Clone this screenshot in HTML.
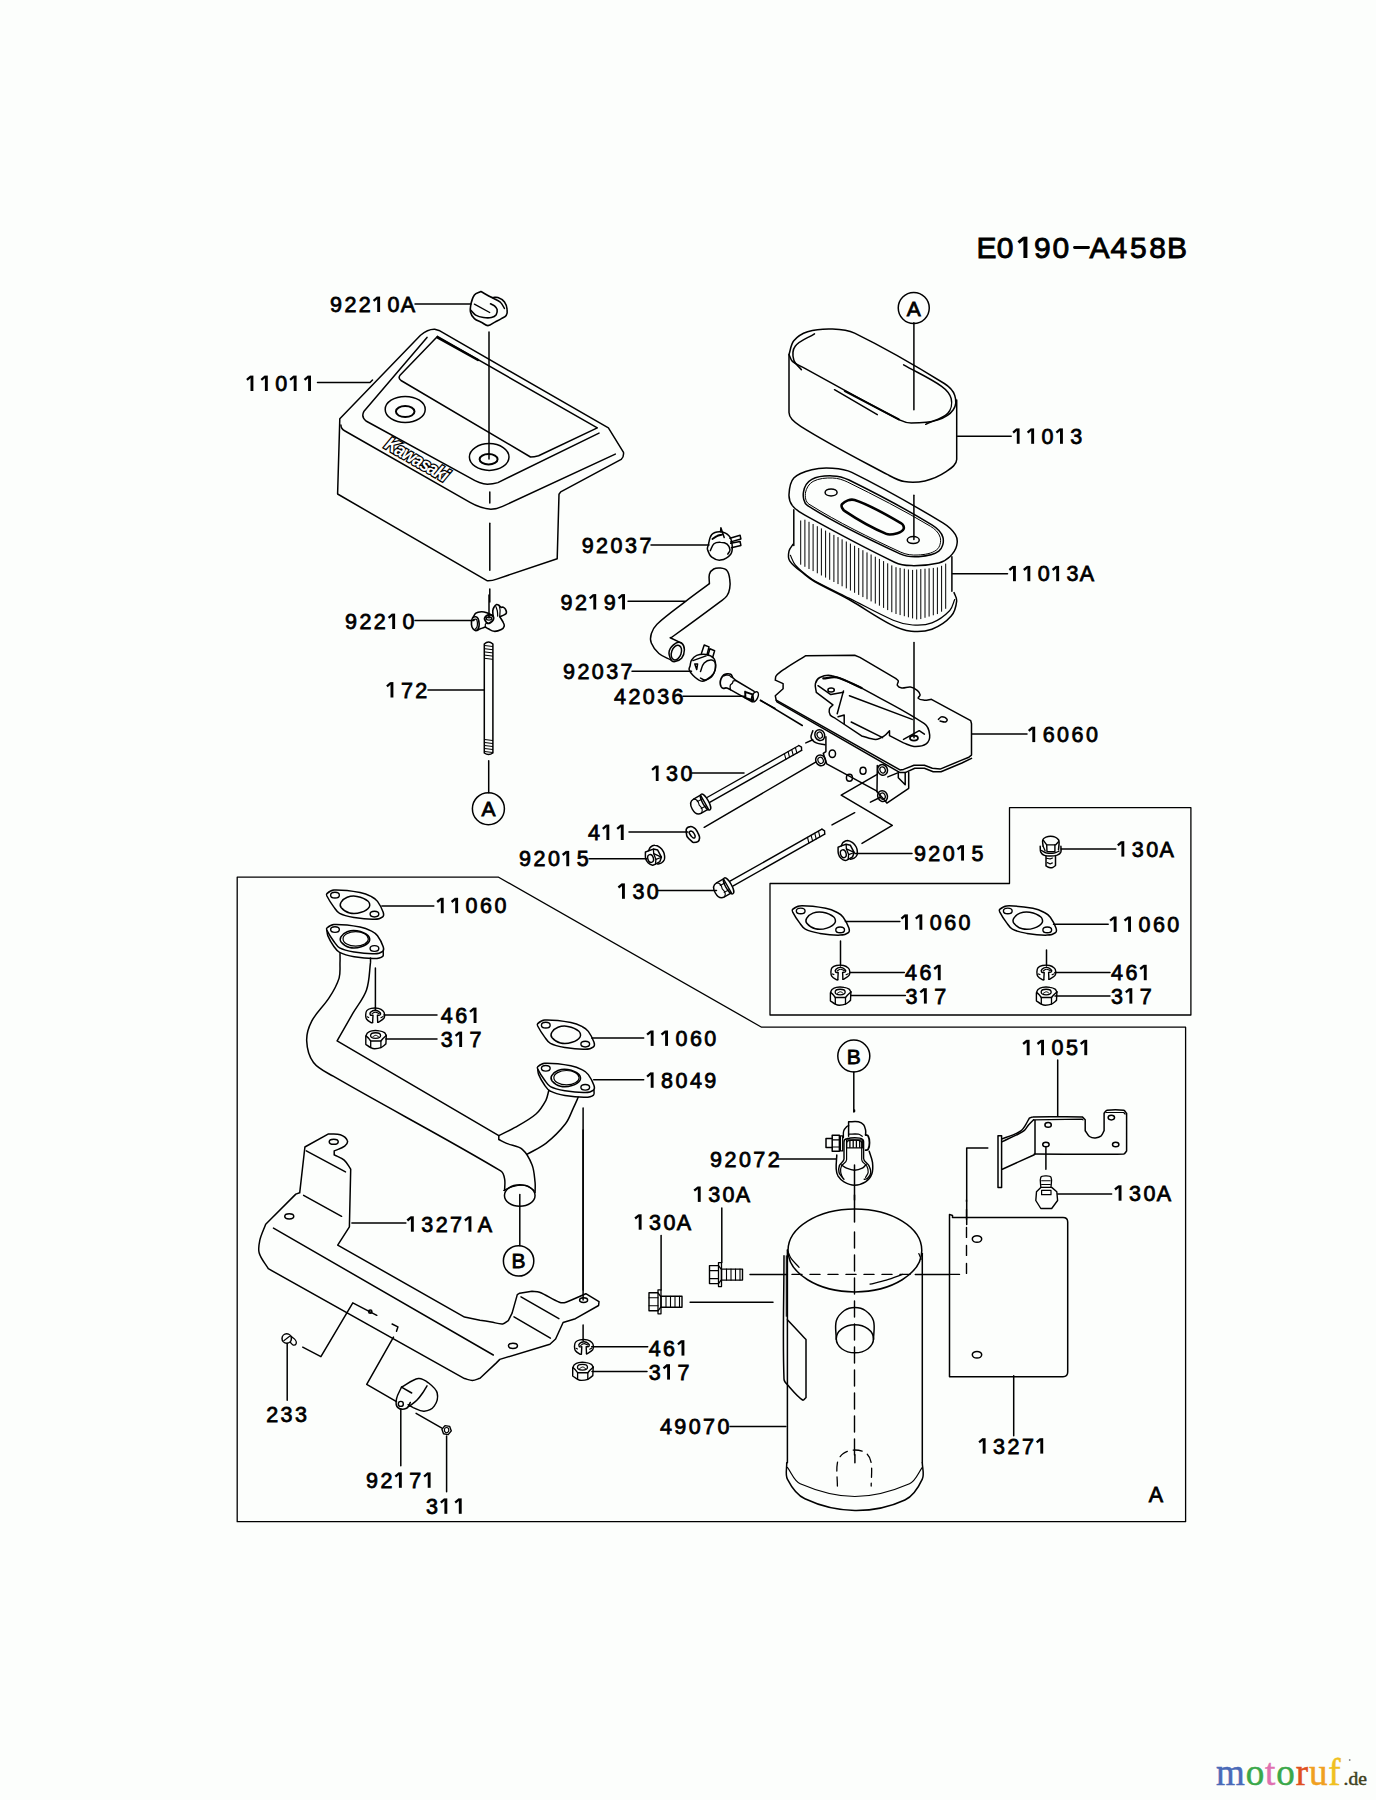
<!DOCTYPE html>
<html><head><meta charset="utf-8"><style>
html,body{margin:0;padding:0;background:#fcfefc;width:1376px;height:1800px;overflow:hidden}
svg{position:absolute;left:0;top:0}
.d polyline,.d path,.d ellipse,.d circle,.d rect,.d line{fill:none;stroke:#000;stroke-linejoin:round;stroke-linecap:round}
.hd{font-family:"Liberation Sans",sans-serif;font-weight:normal;font-size:30px;text-anchor:middle;fill:#000;stroke:#000;stroke-width:0.9}
.lb{font-family:"Liberation Sans",sans-serif;font-weight:normal;font-size:21.5px;text-anchor:middle;fill:#000;stroke:#000;stroke-width:0.8}
.logo{font-family:"Liberation Serif",serif;font-size:37px}
</style></head><body>
<svg class="d" width="1376" height="1800" viewBox="0 0 1376 1800">
<text x="986.5" y="258.0" class="hd">E</text>
<text x="1005.1" y="258.0" class="hd">0</text>
<path d="M1023.4,258.0 L1023.4,236.7 L1027.4,236.7 L1027.4,258.0 Z" style="fill:#000;stroke:none"/><path d="M1024.1,237.9 L1018.5,242.5" style="fill:none;stroke:#000;stroke-width:3.17;stroke-linecap:butt"/>
<text x="1042.3" y="258.0" class="hd">9</text>
<text x="1060.9" y="258.0" class="hd">0</text>
<text x="1099.6" y="258.0" class="hd">A</text>
<text x="1118.9" y="258.0" class="hd">4</text>
<text x="1138.3" y="258.0" class="hd">5</text>
<text x="1157.6" y="258.0" class="hd">8</text>
<text x="1177.0" y="258.0" class="hd">B</text>
<polyline points="1074.5,247.5 1088.5,247.5" stroke-width="2.8" />
<text x="336.0" y="312.0" class="lb">9</text>
<text x="350.4" y="312.0" class="lb">2</text>
<text x="364.8" y="312.0" class="lb">2</text>
<path d="M377.2,312.0 L377.2,296.6 L380.1,296.6 L380.1,312.0 Z" style="fill:#000;stroke:none"/><path d="M377.7,297.4 L373.6,300.8" style="fill:none;stroke:#000;stroke-width:2.30;stroke-linecap:butt"/>
<text x="393.6" y="312.0" class="lb">0</text>
<text x="408.0" y="312.0" class="lb">A</text>
<path d="M250.5,391.0 L250.5,375.6 L253.4,375.6 L253.4,391.0 Z" style="fill:#000;stroke:none"/><path d="M251.0,376.4 L246.9,379.8" style="fill:none;stroke:#000;stroke-width:2.30;stroke-linecap:butt"/>
<path d="M264.9,391.0 L264.9,375.6 L267.8,375.6 L267.8,391.0 Z" style="fill:#000;stroke:none"/><path d="M265.4,376.4 L261.3,379.8" style="fill:none;stroke:#000;stroke-width:2.30;stroke-linecap:butt"/>
<text x="281.3" y="391.0" class="lb">0</text>
<path d="M293.7,391.0 L293.7,375.6 L296.6,375.6 L296.6,391.0 Z" style="fill:#000;stroke:none"/><path d="M294.2,376.4 L290.1,379.8" style="fill:none;stroke:#000;stroke-width:2.30;stroke-linecap:butt"/>
<path d="M308.1,391.0 L308.1,375.6 L311.0,375.6 L311.0,391.0 Z" style="fill:#000;stroke:none"/><path d="M308.6,376.4 L304.5,379.8" style="fill:none;stroke:#000;stroke-width:2.30;stroke-linecap:butt"/>
<text x="351.0" y="629.0" class="lb">9</text>
<text x="365.4" y="629.0" class="lb">2</text>
<text x="379.8" y="629.0" class="lb">2</text>
<path d="M392.2,629.0 L392.2,613.6 L395.1,613.6 L395.1,629.0 Z" style="fill:#000;stroke:none"/><path d="M392.7,614.4 L388.6,617.8" style="fill:none;stroke:#000;stroke-width:2.30;stroke-linecap:butt"/>
<text x="408.6" y="629.0" class="lb">0</text>
<path d="M390.5,697.5 L390.5,682.1 L393.4,682.1 L393.4,697.5 Z" style="fill:#000;stroke:none"/><path d="M391.0,682.9 L386.9,686.3" style="fill:none;stroke:#000;stroke-width:2.30;stroke-linecap:butt"/>
<text x="406.9" y="697.5" class="lb">7</text>
<text x="421.3" y="697.5" class="lb">2</text>
<text x="587.8" y="552.5" class="lb">9</text>
<text x="602.1" y="552.5" class="lb">2</text>
<text x="616.5" y="552.5" class="lb">0</text>
<text x="631.0" y="552.5" class="lb">3</text>
<text x="645.4" y="552.5" class="lb">7</text>
<text x="566.5" y="609.5" class="lb">9</text>
<text x="580.9" y="609.5" class="lb">2</text>
<path d="M593.3,609.5 L593.3,594.1 L596.2,594.1 L596.2,609.5 Z" style="fill:#000;stroke:none"/><path d="M593.8,594.9 L589.7,598.3" style="fill:none;stroke:#000;stroke-width:2.30;stroke-linecap:butt"/>
<text x="609.7" y="609.5" class="lb">9</text>
<path d="M622.1,609.5 L622.1,594.1 L625.0,594.1 L625.0,609.5 Z" style="fill:#000;stroke:none"/><path d="M622.6,594.9 L618.5,598.3" style="fill:none;stroke:#000;stroke-width:2.30;stroke-linecap:butt"/>
<text x="569.0" y="678.8" class="lb">9</text>
<text x="583.4" y="678.8" class="lb">2</text>
<text x="597.8" y="678.8" class="lb">0</text>
<text x="612.2" y="678.8" class="lb">3</text>
<text x="626.6" y="678.8" class="lb">7</text>
<text x="620.0" y="703.8" class="lb">4</text>
<text x="634.4" y="703.8" class="lb">2</text>
<text x="648.8" y="703.8" class="lb">0</text>
<text x="663.2" y="703.8" class="lb">3</text>
<text x="677.6" y="703.8" class="lb">6</text>
<path d="M655.8,781.0 L655.8,765.6 L658.6,765.6 L658.6,781.0 Z" style="fill:#000;stroke:none"/><path d="M656.2,766.4 L652.1,769.8" style="fill:none;stroke:#000;stroke-width:2.30;stroke-linecap:butt"/>
<text x="672.1" y="781.0" class="lb">3</text>
<text x="686.5" y="781.0" class="lb">0</text>
<text x="594.0" y="840.0" class="lb">4</text>
<path d="M606.4,840.0 L606.4,824.6 L609.3,824.6 L609.3,840.0 Z" style="fill:#000;stroke:none"/><path d="M606.9,825.4 L602.8,828.8" style="fill:none;stroke:#000;stroke-width:2.30;stroke-linecap:butt"/>
<path d="M620.8,840.0 L620.8,824.6 L623.7,824.6 L623.7,840.0 Z" style="fill:#000;stroke:none"/><path d="M621.3,825.4 L617.2,828.8" style="fill:none;stroke:#000;stroke-width:2.30;stroke-linecap:butt"/>
<text x="525.1" y="866.2" class="lb">9</text>
<text x="539.5" y="866.2" class="lb">2</text>
<text x="553.9" y="866.2" class="lb">0</text>
<path d="M566.3,866.2 L566.3,850.9 L569.2,850.9 L569.2,866.2 Z" style="fill:#000;stroke:none"/><path d="M566.8,851.6 L562.7,855.0" style="fill:none;stroke:#000;stroke-width:2.30;stroke-linecap:butt"/>
<text x="582.7" y="866.2" class="lb">5</text>
<path d="M622.0,898.8 L622.0,883.4 L624.9,883.4 L624.9,898.8 Z" style="fill:#000;stroke:none"/><path d="M622.5,884.1 L618.4,887.5" style="fill:none;stroke:#000;stroke-width:2.30;stroke-linecap:butt"/>
<text x="638.4" y="898.8" class="lb">3</text>
<text x="652.8" y="898.8" class="lb">0</text>
<path d="M1016.8,443.8 L1016.8,428.4 L1019.6,428.4 L1019.6,443.8 Z" style="fill:#000;stroke:none"/><path d="M1017.2,429.1 L1013.1,432.6" style="fill:none;stroke:#000;stroke-width:2.30;stroke-linecap:butt"/>
<path d="M1031.2,443.8 L1031.2,428.4 L1034.1,428.4 L1034.1,443.8 Z" style="fill:#000;stroke:none"/><path d="M1031.7,429.1 L1027.6,432.6" style="fill:none;stroke:#000;stroke-width:2.30;stroke-linecap:butt"/>
<text x="1047.5" y="443.8" class="lb">0</text>
<path d="M1060.0,443.8 L1060.0,428.4 L1062.9,428.4 L1062.9,443.8 Z" style="fill:#000;stroke:none"/><path d="M1060.5,429.1 L1056.4,432.6" style="fill:none;stroke:#000;stroke-width:2.30;stroke-linecap:butt"/>
<text x="1076.3" y="443.8" class="lb">3</text>
<path d="M1013.0,581.2 L1013.0,565.9 L1015.9,565.9 L1015.9,581.2 Z" style="fill:#000;stroke:none"/><path d="M1013.5,566.6 L1009.4,570.0" style="fill:none;stroke:#000;stroke-width:2.30;stroke-linecap:butt"/>
<path d="M1027.4,581.2 L1027.4,565.9 L1030.3,565.9 L1030.3,581.2 Z" style="fill:#000;stroke:none"/><path d="M1027.9,566.6 L1023.8,570.0" style="fill:none;stroke:#000;stroke-width:2.30;stroke-linecap:butt"/>
<text x="1043.8" y="581.2" class="lb">0</text>
<path d="M1056.2,581.2 L1056.2,565.9 L1059.1,565.9 L1059.1,581.2 Z" style="fill:#000;stroke:none"/><path d="M1056.7,566.6 L1052.6,570.0" style="fill:none;stroke:#000;stroke-width:2.30;stroke-linecap:butt"/>
<text x="1072.6" y="581.2" class="lb">3</text>
<text x="1087.0" y="581.2" class="lb">A</text>
<path d="M1032.3,742.1 L1032.3,726.7 L1035.2,726.7 L1035.2,742.1 Z" style="fill:#000;stroke:none"/><path d="M1032.8,727.5 L1028.7,730.9" style="fill:none;stroke:#000;stroke-width:2.30;stroke-linecap:butt"/>
<text x="1048.7" y="742.1" class="lb">6</text>
<text x="1063.1" y="742.1" class="lb">0</text>
<text x="1077.5" y="742.1" class="lb">6</text>
<text x="1091.9" y="742.1" class="lb">0</text>
<text x="919.9" y="860.6" class="lb">9</text>
<text x="934.3" y="860.6" class="lb">2</text>
<text x="948.7" y="860.6" class="lb">0</text>
<path d="M961.1,860.6 L961.1,845.2 L964.0,845.2 L964.0,860.6 Z" style="fill:#000;stroke:none"/><path d="M961.6,846.0 L957.5,849.4" style="fill:none;stroke:#000;stroke-width:2.30;stroke-linecap:butt"/>
<text x="977.5" y="860.6" class="lb">5</text>
<path d="M1121.4,856.6 L1121.4,841.2 L1124.3,841.2 L1124.3,856.6 Z" style="fill:#000;stroke:none"/><path d="M1121.9,842.0 L1117.8,845.4" style="fill:none;stroke:#000;stroke-width:2.30;stroke-linecap:butt"/>
<text x="1137.8" y="856.6" class="lb">3</text>
<text x="1152.2" y="856.6" class="lb">0</text>
<text x="1166.6" y="856.6" class="lb">A</text>
<path d="M905.0,929.8 L905.0,914.4 L907.9,914.4 L907.9,929.8 Z" style="fill:#000;stroke:none"/><path d="M905.5,915.2 L901.4,918.6" style="fill:none;stroke:#000;stroke-width:2.30;stroke-linecap:butt"/>
<path d="M919.4,929.8 L919.4,914.4 L922.3,914.4 L922.3,929.8 Z" style="fill:#000;stroke:none"/><path d="M919.9,915.2 L915.8,918.6" style="fill:none;stroke:#000;stroke-width:2.30;stroke-linecap:butt"/>
<text x="935.8" y="929.8" class="lb">0</text>
<text x="950.2" y="929.8" class="lb">6</text>
<text x="964.6" y="929.8" class="lb">0</text>
<path d="M1113.7,931.9 L1113.7,916.5 L1116.6,916.5 L1116.6,931.9 Z" style="fill:#000;stroke:none"/><path d="M1114.2,917.3 L1110.1,920.7" style="fill:none;stroke:#000;stroke-width:2.30;stroke-linecap:butt"/>
<path d="M1128.1,931.9 L1128.1,916.5 L1131.0,916.5 L1131.0,931.9 Z" style="fill:#000;stroke:none"/><path d="M1128.6,917.3 L1124.5,920.7" style="fill:none;stroke:#000;stroke-width:2.30;stroke-linecap:butt"/>
<text x="1144.5" y="931.9" class="lb">0</text>
<text x="1158.9" y="931.9" class="lb">6</text>
<text x="1173.3" y="931.9" class="lb">0</text>
<text x="911.0" y="980.2" class="lb">4</text>
<text x="925.4" y="980.2" class="lb">6</text>
<path d="M937.8,980.2 L937.8,964.8 L940.7,964.8 L940.7,980.2 Z" style="fill:#000;stroke:none"/><path d="M938.3,965.6 L934.2,969.0" style="fill:none;stroke:#000;stroke-width:2.30;stroke-linecap:butt"/>
<text x="911.5" y="1003.6" class="lb">3</text>
<path d="M923.9,1003.6 L923.9,988.2 L926.8,988.2 L926.8,1003.6 Z" style="fill:#000;stroke:none"/><path d="M924.4,989.0 L920.3,992.4" style="fill:none;stroke:#000;stroke-width:2.30;stroke-linecap:butt"/>
<text x="940.3" y="1003.6" class="lb">7</text>
<text x="1117.0" y="980.2" class="lb">4</text>
<text x="1131.4" y="980.2" class="lb">6</text>
<path d="M1143.8,980.2 L1143.8,964.8 L1146.7,964.8 L1146.7,980.2 Z" style="fill:#000;stroke:none"/><path d="M1144.3,965.6 L1140.2,969.0" style="fill:none;stroke:#000;stroke-width:2.30;stroke-linecap:butt"/>
<text x="1117.0" y="1003.6" class="lb">3</text>
<path d="M1129.4,1003.6 L1129.4,988.2 L1132.3,988.2 L1132.3,1003.6 Z" style="fill:#000;stroke:none"/><path d="M1129.9,989.0 L1125.8,992.4" style="fill:none;stroke:#000;stroke-width:2.30;stroke-linecap:butt"/>
<text x="1145.8" y="1003.6" class="lb">7</text>
<path d="M440.8,913.2 L440.8,897.8 L443.7,897.8 L443.7,913.2 Z" style="fill:#000;stroke:none"/><path d="M441.3,898.6 L437.2,902.0" style="fill:none;stroke:#000;stroke-width:2.30;stroke-linecap:butt"/>
<path d="M455.2,913.2 L455.2,897.8 L458.1,897.8 L458.1,913.2 Z" style="fill:#000;stroke:none"/><path d="M455.7,898.6 L451.6,902.0" style="fill:none;stroke:#000;stroke-width:2.30;stroke-linecap:butt"/>
<text x="471.6" y="913.2" class="lb">0</text>
<text x="486.0" y="913.2" class="lb">6</text>
<text x="500.4" y="913.2" class="lb">0</text>
<text x="446.8" y="1023.0" class="lb">4</text>
<text x="461.2" y="1023.0" class="lb">6</text>
<path d="M473.6,1023.0 L473.6,1007.6 L476.5,1007.6 L476.5,1023.0 Z" style="fill:#000;stroke:none"/><path d="M474.1,1008.4 L470.0,1011.8" style="fill:none;stroke:#000;stroke-width:2.30;stroke-linecap:butt"/>
<text x="446.8" y="1047.0" class="lb">3</text>
<path d="M459.2,1047.0 L459.2,1031.6 L462.1,1031.6 L462.1,1047.0 Z" style="fill:#000;stroke:none"/><path d="M459.7,1032.4 L455.6,1035.8" style="fill:none;stroke:#000;stroke-width:2.30;stroke-linecap:butt"/>
<text x="475.6" y="1047.0" class="lb">7</text>
<path d="M650.7,1045.9 L650.7,1030.5 L653.6,1030.5 L653.6,1045.9 Z" style="fill:#000;stroke:none"/><path d="M651.2,1031.3 L647.1,1034.7" style="fill:none;stroke:#000;stroke-width:2.30;stroke-linecap:butt"/>
<path d="M665.1,1045.9 L665.1,1030.5 L668.0,1030.5 L668.0,1045.9 Z" style="fill:#000;stroke:none"/><path d="M665.6,1031.3 L661.5,1034.7" style="fill:none;stroke:#000;stroke-width:2.30;stroke-linecap:butt"/>
<text x="681.5" y="1045.9" class="lb">0</text>
<text x="695.9" y="1045.9" class="lb">6</text>
<text x="710.3" y="1045.9" class="lb">0</text>
<path d="M650.7,1087.8 L650.7,1072.4 L653.6,1072.4 L653.6,1087.8 Z" style="fill:#000;stroke:none"/><path d="M651.2,1073.2 L647.1,1076.6" style="fill:none;stroke:#000;stroke-width:2.30;stroke-linecap:butt"/>
<text x="667.1" y="1087.8" class="lb">8</text>
<text x="681.5" y="1087.8" class="lb">0</text>
<text x="695.9" y="1087.8" class="lb">4</text>
<text x="710.3" y="1087.8" class="lb">9</text>
<path d="M410.9,1231.7 L410.9,1216.3 L413.8,1216.3 L413.8,1231.7 Z" style="fill:#000;stroke:none"/><path d="M411.4,1217.1 L407.3,1220.5" style="fill:none;stroke:#000;stroke-width:2.30;stroke-linecap:butt"/>
<text x="427.3" y="1231.7" class="lb">3</text>
<text x="441.7" y="1231.7" class="lb">2</text>
<text x="456.1" y="1231.7" class="lb">7</text>
<path d="M468.5,1231.7 L468.5,1216.3 L471.4,1216.3 L471.4,1231.7 Z" style="fill:#000;stroke:none"/><path d="M469.0,1217.1 L464.9,1220.5" style="fill:none;stroke:#000;stroke-width:2.30;stroke-linecap:butt"/>
<text x="484.9" y="1231.7" class="lb">A</text>
<text x="716.1" y="1167.1" class="lb">9</text>
<text x="730.5" y="1167.1" class="lb">2</text>
<text x="744.9" y="1167.1" class="lb">0</text>
<text x="759.3" y="1167.1" class="lb">7</text>
<text x="773.7" y="1167.1" class="lb">2</text>
<path d="M697.8,1201.9 L697.8,1186.5 L700.7,1186.5 L700.7,1201.9 Z" style="fill:#000;stroke:none"/><path d="M698.3,1187.3 L694.2,1190.7" style="fill:none;stroke:#000;stroke-width:2.30;stroke-linecap:butt"/>
<text x="714.2" y="1201.9" class="lb">3</text>
<text x="728.6" y="1201.9" class="lb">0</text>
<text x="743.0" y="1201.9" class="lb">A</text>
<path d="M638.7,1229.7 L638.7,1214.3 L641.6,1214.3 L641.6,1229.7 Z" style="fill:#000;stroke:none"/><path d="M639.2,1215.1 L635.1,1218.5" style="fill:none;stroke:#000;stroke-width:2.30;stroke-linecap:butt"/>
<text x="655.1" y="1229.7" class="lb">3</text>
<text x="669.5" y="1229.7" class="lb">0</text>
<text x="683.9" y="1229.7" class="lb">A</text>
<text x="654.7" y="1355.6" class="lb">4</text>
<text x="669.1" y="1355.6" class="lb">6</text>
<path d="M681.5,1355.6 L681.5,1340.2 L684.4,1340.2 L684.4,1355.6 Z" style="fill:#000;stroke:none"/><path d="M682.0,1341.0 L677.9,1344.4" style="fill:none;stroke:#000;stroke-width:2.30;stroke-linecap:butt"/>
<text x="654.7" y="1379.6" class="lb">3</text>
<path d="M667.1,1379.6 L667.1,1364.2 L670.0,1364.2 L670.0,1379.6 Z" style="fill:#000;stroke:none"/><path d="M667.6,1365.0 L663.5,1368.4" style="fill:none;stroke:#000;stroke-width:2.30;stroke-linecap:butt"/>
<text x="683.5" y="1379.6" class="lb">7</text>
<text x="272.2" y="1421.9" class="lb">2</text>
<text x="286.6" y="1421.9" class="lb">3</text>
<text x="301.0" y="1421.9" class="lb">3</text>
<text x="372.1" y="1487.8" class="lb">9</text>
<text x="386.5" y="1487.8" class="lb">2</text>
<path d="M398.9,1487.8 L398.9,1472.4 L401.8,1472.4 L401.8,1487.8 Z" style="fill:#000;stroke:none"/><path d="M399.4,1473.2 L395.3,1476.6" style="fill:none;stroke:#000;stroke-width:2.30;stroke-linecap:butt"/>
<text x="415.3" y="1487.8" class="lb">7</text>
<path d="M427.7,1487.8 L427.7,1472.4 L430.6,1472.4 L430.6,1487.8 Z" style="fill:#000;stroke:none"/><path d="M428.2,1473.2 L424.1,1476.6" style="fill:none;stroke:#000;stroke-width:2.30;stroke-linecap:butt"/>
<text x="432.0" y="1513.8" class="lb">3</text>
<path d="M444.4,1513.8 L444.4,1498.4 L447.3,1498.4 L447.3,1513.8 Z" style="fill:#000;stroke:none"/><path d="M444.9,1499.2 L440.8,1502.6" style="fill:none;stroke:#000;stroke-width:2.30;stroke-linecap:butt"/>
<path d="M458.8,1513.8 L458.8,1498.4 L461.7,1498.4 L461.7,1513.8 Z" style="fill:#000;stroke:none"/><path d="M459.3,1499.2 L455.2,1502.6" style="fill:none;stroke:#000;stroke-width:2.30;stroke-linecap:butt"/>
<text x="665.9" y="1433.9" class="lb">4</text>
<text x="680.3" y="1433.9" class="lb">9</text>
<text x="694.7" y="1433.9" class="lb">0</text>
<text x="709.1" y="1433.9" class="lb">7</text>
<text x="723.5" y="1433.9" class="lb">0</text>
<path d="M1026.7,1055.2 L1026.7,1039.8 L1029.6,1039.8 L1029.6,1055.2 Z" style="fill:#000;stroke:none"/><path d="M1027.2,1040.6 L1023.1,1044.0" style="fill:none;stroke:#000;stroke-width:2.30;stroke-linecap:butt"/>
<path d="M1041.1,1055.2 L1041.1,1039.8 L1044.0,1039.8 L1044.0,1055.2 Z" style="fill:#000;stroke:none"/><path d="M1041.6,1040.6 L1037.5,1044.0" style="fill:none;stroke:#000;stroke-width:2.30;stroke-linecap:butt"/>
<text x="1057.5" y="1055.2" class="lb">0</text>
<text x="1071.9" y="1055.2" class="lb">5</text>
<path d="M1084.3,1055.2 L1084.3,1039.8 L1087.2,1039.8 L1087.2,1055.2 Z" style="fill:#000;stroke:none"/><path d="M1084.8,1040.6 L1080.7,1044.0" style="fill:none;stroke:#000;stroke-width:2.30;stroke-linecap:butt"/>
<path d="M1118.6,1200.7 L1118.6,1185.3 L1121.5,1185.3 L1121.5,1200.7 Z" style="fill:#000;stroke:none"/><path d="M1119.1,1186.1 L1115.0,1189.5" style="fill:none;stroke:#000;stroke-width:2.30;stroke-linecap:butt"/>
<text x="1135.0" y="1200.7" class="lb">3</text>
<text x="1149.4" y="1200.7" class="lb">0</text>
<text x="1163.8" y="1200.7" class="lb">A</text>
<path d="M982.7,1453.6 L982.7,1438.2 L985.6,1438.2 L985.6,1453.6 Z" style="fill:#000;stroke:none"/><path d="M983.2,1439.0 L979.1,1442.4" style="fill:none;stroke:#000;stroke-width:2.30;stroke-linecap:butt"/>
<text x="999.1" y="1453.6" class="lb">3</text>
<text x="1013.5" y="1453.6" class="lb">2</text>
<text x="1027.9" y="1453.6" class="lb">7</text>
<path d="M1040.3,1453.6 L1040.3,1438.2 L1043.2,1438.2 L1043.2,1453.6 Z" style="fill:#000;stroke:none"/><path d="M1040.8,1439.0 L1036.7,1442.4" style="fill:none;stroke:#000;stroke-width:2.30;stroke-linecap:butt"/>
<text x="1155.8" y="1501.6" class="lb">A</text>
<polyline points="415.0,304.0 471.0,304.0" stroke-width="1.5" />
<polyline points="317.5,382.5 370.0,382.5 372.5,380.0" stroke-width="1.5" />
<polyline points="415.0,620.5 474.0,620.5" stroke-width="1.5" />
<polyline points="428.0,690.0 484.0,690.0" stroke-width="1.5" />
<polyline points="651.0,545.0 709.0,545.0" stroke-width="1.5" />
<polyline points="628.0,601.2 685.0,601.2" stroke-width="1.5" />
<polyline points="632.0,671.2 691.5,671.2" stroke-width="1.5" />
<polyline points="683.0,696.2 741.5,696.2" stroke-width="1.5" />
<polyline points="692.0,773.0 744.0,773.0" stroke-width="1.5" />
<polyline points="629.0,832.0 687.8,832.0" stroke-width="1.5" />
<polyline points="589.0,858.8 646.5,858.8" stroke-width="1.5" />
<polyline points="658.0,890.5 716.5,890.5" stroke-width="1.5" />
<polyline points="957.5,436.2 1011.2,436.2" stroke-width="1.5" />
<polyline points="952.5,573.8 1007.5,573.8" stroke-width="1.5" />
<polyline points="972.1,734.0 1027.0,734.0" stroke-width="1.5" />
<polyline points="855.0,853.5 912.0,853.5" stroke-width="1.5" />
<polyline points="1061.0,849.0 1115.8,849.0" stroke-width="1.5" />
<polyline points="1053.5,924.2 1108.2,924.2" stroke-width="1.5" />
<polyline points="1054.8,972.6 1110.0,972.6" stroke-width="1.5" />
<polyline points="1055.0,996.0 1110.0,996.0" stroke-width="1.5" />
<polyline points="381.9,906.0 433.8,906.0" stroke-width="1.5" />
<polyline points="383.9,1015.0 437.0,1015.0" stroke-width="1.5" />
<polyline points="385.9,1039.0 437.0,1039.0" stroke-width="1.5" />
<polyline points="591.7,1037.9 643.7,1037.9" stroke-width="1.5" />
<polyline points="593.7,1079.8 643.7,1079.8" stroke-width="1.5" />
<polyline points="351.9,1222.9 405.9,1222.9" stroke-width="1.5" />
<polyline points="778.0,1159.0 835.8,1159.0" stroke-width="1.5" />
<polyline points="730.0,1426.5 785.9,1426.5" stroke-width="1.5" />
<polyline points="1057.7,1060.0 1057.7,1116.0" stroke-width="1.5" />
<polyline points="1057.7,1193.9 1111.6,1193.9" stroke-width="1.5" />
<polyline points="1013.7,1375.7 1013.7,1435.7" stroke-width="1.5" />
<polyline points="1009.5,883.5 1009.5,807.7 1190.9,807.7 1190.9,1015.0 770.0,1015.0 770.0,883.5 1009.5,883.5" stroke-width="1.3" />
<polyline points="237.2,877.2 498.6,877.2 761.6,1027.2 1185.6,1027.2 1185.6,1521.7 237.2,1521.7 237.2,877.2" stroke-width="1.3" />
<circle cx="913.75" cy="308" r="15.5" stroke-width="1.5"/>
<text x="913.75" y="315.5" class="lb" style="font-size:21px">A</text>
<circle cx="488.4" cy="808.7" r="16" stroke-width="1.5"/>
<text x="488.4" y="816.2" class="lb" style="font-size:21px">A</text>
<circle cx="518.6" cy="1260.9" r="15.2" stroke-width="1.5"/>
<text x="518.6" y="1268.4" class="lb" style="font-size:21px">B</text>
<circle cx="853.8" cy="1056" r="16" stroke-width="1.5"/>
<text x="853.8" y="1063.5" class="lb" style="font-size:21px">B</text>
<path d="M339.8,418.8 L420.5,335.3 Q428,329 434.7,329.3 L439,330.4 L608.4,427.9 L623.5,452.3 Q624,457 621.2,459.3 L560.7,491.9 L559,494.2 L557.2,558.7 L496.7,579.1 Q492,581 487.4,580.8 L337.6,494 L339.8,418.8" stroke-width="1.5" />
<path d="M340.9,425 Q341,429 345,431 L470,502.3 Q480,508 490.9,509.3 Q497,509 502.6,506.4 L615.3,454.1" stroke-width="1.5" />
<path d="M427,337.4 L363.8,411.6 Q361,417 366,421 L470,477.9 Q480,484 487.4,484.3 Q493,484 497.9,482.6 L599,433.1" stroke-width="1.5" />
<path d="M437.4,336.4 L597.3,427.9 L538.6,455.8 Q534,457 530.5,457 L401,380.5 Q398,378 399.8,375.6 L437.4,336.4" stroke-width="1.5" />
<path d="M437.4,337.5 L478,360" stroke-width="2.5" />
<ellipse cx="405.2" cy="409.4" rx="20" ry="13" stroke-width="1.5" />
<ellipse cx="405.2" cy="411.6" rx="9.3" ry="5.5" stroke-width="2" />
<ellipse cx="489.2" cy="457" rx="19.8" ry="13.4" stroke-width="1.5" />
<ellipse cx="488.6" cy="459.3" rx="9" ry="5.2" stroke-width="2" />
<text x="0" y="0" transform="translate(383.5,447.5) rotate(30) scale(0.9,1)" style="font-family:'Liberation Sans';font-style:italic;font-weight:bold;font-size:19px;fill:#fff;stroke:#000;stroke-width:2.6;paint-order:stroke;letter-spacing:-1.2px">Kawasaki</text>
<polyline points="489.8,491.9 489.8,502.9" stroke-width="1.5" />
<polyline points="489.8,523.3 489.8,570.3" stroke-width="1.5" />
<polyline points="489.8,589.0 489.8,602.0" stroke-width="1.5" />
<path d="M484.3,753 L484.3,644 Q488.5,640 492.9,644 L492.9,753 Q488.5,756 484.3,753" stroke-width="1.5" />
<polyline points="488.7,760.7 488.7,792.7" stroke-width="1.5" />
<polyline points="484.6,645.5 492.6,646.5" stroke-width="1.0" />
<polyline points="484.6,739.5 492.6,740.5" stroke-width="1.0" />
<polyline points="484.6,648.7 492.6,649.7" stroke-width="1.0" />
<polyline points="484.6,742.5 492.6,743.5" stroke-width="1.0" />
<polyline points="484.6,651.9 492.6,652.9" stroke-width="1.0" />
<polyline points="484.6,745.5 492.6,746.5" stroke-width="1.0" />
<polyline points="484.6,655.1 492.6,656.1" stroke-width="1.0" />
<polyline points="484.6,748.5 492.6,749.5" stroke-width="1.0" />
<polyline points="484.6,658.3 492.6,659.3" stroke-width="1.0" />
<polyline points="484.6,751.5 492.6,752.5" stroke-width="1.0" />
<circle cx="1349.7" cy="1760" r="0.9" style="fill:#888;stroke:none"/>
<text x="1216" y="1785" class="logo" style="letter-spacing:0.9px;stroke-width:0.5" stroke="currentColor"><tspan fill="#4a6ab8" stroke="#4a6ab8">m</tspan><tspan fill="#3aa84a" stroke="#3aa84a">o</tspan><tspan fill="#e070b0" stroke="#e070b0">t</tspan><tspan fill="#3aa84a" stroke="#3aa84a">o</tspan><tspan fill="#e05020" stroke="#e05020">r</tspan><tspan fill="#f0a020" stroke="#f0a020">u</tspan><tspan fill="#f0c020" stroke="#f0c020">f</tspan><tspan fill="#404020" stroke="#404020" style="font-size:19.5px;letter-spacing:0px" dx="2">.de</tspan></text>
<path d="M789.0,354.5 C790.6,349.9 790.7,344.5 793.8,340.7 C797.3,336.5 802.4,333.3 807.6,331.7 C815.6,329.3 824.1,328.7 832.5,329.0 C840.0,329.2 847.8,329.8 854.6,333.1 C885.4,348.2 915.2,365.4 944.3,383.5 C948.8,386.3 953.0,390.3 954.7,395.3 C956.2,399.8 956.1,405.8 953.3,409.8 C949.7,414.9 943.4,418.2 937.4,420.1 C929.0,422.7 920.0,422.9 911.2,422.9 C907.4,422.9 903.5,421.8 900.1,420.1 C867.5,403.4 835.7,385.2 803.5,367.6 C799.8,365.6 795.6,364.3 792.4,361.4 C790.5,359.7 790.1,356.8 789.0,354.5" stroke-width="1.5" />
<path d="M801.4,369.7 C798.9,366.5 794.9,364.0 793.8,360.0 C792.6,355.6 792.3,349.9 795.2,346.2 C799.9,340.2 808.1,338.0 814.5,333.8" stroke-width="1.5" />
<path d="M903.6,364.9 C916.2,372.0 929.7,377.9 941.6,386.3 C945.8,389.3 950.0,393.6 951.2,398.7 C952.3,403.5 951.3,409.7 947.8,413.2 C941.9,419.0 933.0,420.6 925.7,424.3" stroke-width="1.5" />
<path d="M834.5,389.7 L877.3,414.6" stroke-width="1.5" />
<path d="M844.9,391.1 L898.8,419.4" stroke-width="2.2" />
<path d="M789.0,354.5 C789.0,373.9 789.0,393.2 789.0,412.5 C789.0,418.6 795.6,423.1 800.7,426.3 C828.8,444.0 858.4,459.0 887.7,474.7 C893.0,477.5 898.4,480.6 904.3,481.6 C911.1,482.7 918.3,482.4 925.0,480.9 C932.3,479.2 939.5,476.1 945.7,471.9 C950.3,468.8 956.7,465.0 956.7,459.5 C956.7,439.7 956.7,419.9 956.7,400.1" stroke-width="1.5" />
<polyline points="913.9,322.8 913.9,409.8" stroke-width="1.5" />
<path d="M789.0,494.5 C789.3,488.8 789.9,482.2 793.8,478.0 C798.3,473.1 805.4,471.3 811.8,469.7 C818.5,468.0 825.6,467.8 832.5,468.3 C839.0,468.7 845.9,469.5 851.8,472.4 C882.9,487.8 913.2,505.0 942.9,522.8 C947.8,525.8 952.4,529.7 955.4,534.6 C957.3,537.7 957.6,542.0 956.7,545.6 C955.7,549.8 953.0,553.6 949.8,556.7 C946.8,559.6 942.9,561.9 938.8,562.9 C929.8,565.0 920.4,565.8 911.2,565.6 C905.5,565.5 899.7,564.6 894.6,562.2 C864.1,547.7 834.4,531.6 804.9,515.2 C800.3,512.7 795.6,509.7 792.4,505.6 C790.1,502.5 788.8,498.4 789.0,494.5 Z" stroke-width="1.5" />
<path d="M803.5,491.8 C804.3,486.8 807.4,481.7 811.8,479.3 C817.9,476.0 825.5,475.7 832.5,475.9 C838.2,476.0 843.9,477.5 849.0,480.0 C877.2,493.9 905.1,508.5 931.9,524.9 C936.6,527.8 941.5,532.0 942.9,537.3 C944.2,542.0 942.6,548.2 938.8,551.1 C933.2,555.5 925.2,556.1 918.1,556.7 C912.0,557.1 905.6,556.4 900.1,553.9 C868.6,539.3 836.9,524.4 807.6,505.6 C803.6,503.0 802.7,496.5 803.5,491.8 Z" stroke-width="1.5" />
<path d="M805.5,492.4 C806.3,488.1 809.2,483.5 813.1,481.4 C818.9,478.3 825.9,477.8 832.5,478.0 C837.7,478.1 843.0,479.8 847.7,482.1 C875.7,495.9 903.6,510.2 930.5,526.3 C934.7,528.8 938.9,532.6 940.2,537.3 C941.3,541.5 940.1,547.1 936.7,549.8 C931.7,553.8 924.5,554.6 918.1,555.0 C912.3,555.4 906.1,554.7 900.8,552.2 C869.5,537.7 838.3,522.5 809.0,504.2 C805.5,502.0 804.8,496.5 805.5,492.4 Z" stroke-width="1" />
<path d="M842.1,504.2 C845.0,500.9 850.4,498.7 854.6,500.0 C871.2,505.5 886.5,514.6 901.5,523.5 C903.2,524.5 904.4,527.2 903.6,529.0 C902.6,531.3 899.8,532.5 897.4,533.2 C893.8,534.2 889.7,535.3 886.3,533.9 C871.8,527.8 858.0,519.9 844.9,511.1 C842.8,509.7 840.5,506.1 842.1,504.2 Z" stroke-width="2.6" />
<ellipse cx="831.0908588787628" cy="492.4495995581331" rx="6" ry="3.5" stroke-width="1.5" />
<ellipse cx="913.2504832919083" cy="540.08837337752" rx="6" ry="3.5" stroke-width="1.5" />
<polyline points="913.9,495.2 913.9,539.4" stroke-width="1.5" />
<polyline points="793.8,509.7 793.8,545.6" stroke-width="1.5" />
<polyline points="951.9,556.7 951.9,591.2" stroke-width="1.5" />
<path d="M793.1,544.2 C791.7,546.5 789.5,548.5 789.0,551.1 C788.3,554.3 787.9,558.1 789.7,560.8 C793.5,566.5 799.6,570.2 804.9,574.6 C807.9,577.1 811.1,579.6 814.5,581.5 C825.8,587.9 837.7,593.1 849.0,599.5 C863.1,607.4 876.1,617.0 890.5,624.3 C896.9,627.6 904.0,630.4 911.2,631.2 C918.1,632.0 925.4,631.6 931.9,629.2 C939.2,626.4 946.1,621.9 951.2,616.0 C954.8,612.0 956.1,606.2 956.7,600.8 C957.1,598.0 954.9,595.3 954.0,592.6" stroke-width="1.5" />
<path d="M790.4,555.3 C792.0,558.5 792.9,562.2 795.2,564.9 C798.7,569.2 803.3,572.5 807.6,576.0 C810.2,578.1 813.0,580.0 815.9,581.5 C826.8,587.3 838.0,592.6 849.0,598.1 C863.8,605.4 878.1,613.7 893.2,620.2 C899.3,622.8 905.9,624.5 912.6,625.0 C919.0,625.5 925.9,625.3 931.9,622.9 C938.7,620.3 944.8,615.7 949.8,610.5 C952.6,607.6 953.1,603.1 954.7,599.5" stroke-width="1.2" />
<line x1="800.7" y1="520.9" x2="800.7" y2="564.3" stroke-width="1"/>
<line x1="804.9" y1="520.1" x2="804.9" y2="566.4" stroke-width="1"/>
<line x1="809.0" y1="522.2" x2="809.0" y2="568.6" stroke-width="1"/>
<line x1="813.1" y1="524.4" x2="813.1" y2="570.7" stroke-width="1"/>
<line x1="817.3" y1="526.6" x2="817.3" y2="572.9" stroke-width="1"/>
<line x1="821.4" y1="528.8" x2="821.4" y2="575.1" stroke-width="1"/>
<line x1="825.6" y1="531.0" x2="825.6" y2="577.2" stroke-width="1"/>
<line x1="829.7" y1="533.1" x2="829.7" y2="579.4" stroke-width="1"/>
<line x1="833.9" y1="535.3" x2="833.9" y2="581.6" stroke-width="1"/>
<line x1="838.0" y1="537.5" x2="838.0" y2="583.7" stroke-width="1"/>
<line x1="842.1" y1="539.7" x2="842.1" y2="585.9" stroke-width="1"/>
<line x1="846.3" y1="541.9" x2="846.3" y2="588.0" stroke-width="1"/>
<line x1="850.4" y1="544.0" x2="850.4" y2="590.2" stroke-width="1"/>
<line x1="854.6" y1="546.2" x2="854.6" y2="592.4" stroke-width="1"/>
<line x1="858.7" y1="548.4" x2="858.7" y2="594.5" stroke-width="1"/>
<line x1="862.9" y1="550.6" x2="862.9" y2="596.7" stroke-width="1"/>
<line x1="867.0" y1="552.8" x2="867.0" y2="598.9" stroke-width="1"/>
<line x1="871.1" y1="554.9" x2="871.1" y2="601.0" stroke-width="1"/>
<line x1="875.3" y1="557.1" x2="875.3" y2="603.2" stroke-width="1"/>
<line x1="879.4" y1="559.3" x2="879.4" y2="605.3" stroke-width="1"/>
<line x1="883.6" y1="561.5" x2="883.6" y2="607.5" stroke-width="1"/>
<line x1="887.7" y1="563.7" x2="887.7" y2="609.7" stroke-width="1"/>
<line x1="891.8" y1="565.8" x2="891.8" y2="611.8" stroke-width="1"/>
<line x1="896.0" y1="567.6" x2="896.0" y2="613.6" stroke-width="1"/>
<line x1="900.1" y1="568.3" x2="900.1" y2="614.7" stroke-width="1"/>
<line x1="904.3" y1="569.1" x2="904.3" y2="615.8" stroke-width="1"/>
<line x1="908.4" y1="569.9" x2="908.4" y2="616.9" stroke-width="1"/>
<line x1="912.6" y1="570.3" x2="912.6" y2="618.0" stroke-width="1"/>
<line x1="916.7" y1="569.9" x2="916.7" y2="619.1" stroke-width="1"/>
<line x1="920.8" y1="569.5" x2="920.8" y2="618.7" stroke-width="1"/>
<line x1="925.0" y1="569.1" x2="925.0" y2="617.4" stroke-width="1"/>
<line x1="929.1" y1="568.7" x2="929.1" y2="616.2" stroke-width="1"/>
<line x1="933.3" y1="568.3" x2="933.3" y2="614.9" stroke-width="1"/>
<line x1="937.4" y1="567.8" x2="937.4" y2="613.7" stroke-width="1"/>
<line x1="941.6" y1="566.2" x2="941.6" y2="611.3" stroke-width="1"/>
<line x1="945.7" y1="564.0" x2="945.7" y2="608.4" stroke-width="1"/>
<path d="M471.1,303.3 C471.8,300.4 472.5,297.3 474.4,295.0 C476.0,293.1 478.8,292.7 480.9,291.5 C484.4,293.4 487.7,295.9 491.4,297.2 C493.5,297.9 495.9,296.9 497.9,297.6 C500.4,298.5 502.9,299.9 504.5,302.0 C506.1,304.1 506.8,306.8 507.1,309.4 C507.4,311.5 507.3,313.8 506.2,315.5 C505.2,317.1 503.1,317.6 501.4,318.6 C499.3,319.8 497.1,320.9 494.9,322.1 C492.6,323.3 490.5,325.5 487.9,325.6 C485.6,325.6 483.8,323.5 481.8,322.5 C479.3,321.2 476.4,320.5 474.4,318.6 C472.5,316.9 471.0,314.5 470.5,312.0 C469.9,309.2 470.5,306.2 471.1,303.3 Z" stroke-width="1.6" />
<path d="M470.9,310.3 C472.5,311.9 473.7,314.0 475.7,315.1 C478.1,316.4 480.8,317.1 483.5,317.5 C486.1,317.9 488.8,318.1 491.4,317.5 C493.2,317.1 495.1,316.2 496.2,314.7 C497.2,313.2 497.4,311.2 497.1,309.4 C496.8,308.0 495.6,306.9 494.5,305.9 C493.3,305.0 491.8,304.5 490.5,303.8" stroke-width="1.6" />
<polyline points="474.4,304.2 489.7,312.5" stroke-width="1.4" />
<path d="M491.4,297.4 C494.5,299.1 497.9,300.2 500.6,302.4 C502.4,304.0 503.2,306.5 504.5,308.5" stroke-width="1.4" />
<polyline points="489.0,332.0 489.0,459.0" stroke-width="1.5" />
<path d="M472.3,618.3 C472.9,617.1 474.6,616.7 475.9,616.8 C476.8,616.9 477.7,617.8 478.1,618.6 C478.8,620.3 479.1,622.2 479.2,624.1 C479.2,625.5 479.1,627.1 478.4,628.4 C477.9,629.4 477.0,630.5 475.9,630.6 C474.8,630.7 473.7,629.7 473.0,628.8 C472.1,627.7 471.6,626.2 471.5,624.8 C471.4,622.6 471.2,620.2 472.3,618.3 Z" stroke-width="1.6" />
<path d="M473.4,619.7 C474.3,619.6 475.5,618.8 476.3,619.3 C477.2,620.0 477.2,621.5 477.4,622.6 C477.5,624.1 477.5,625.6 477.0,627.0 C476.7,627.9 475.8,628.4 475.2,629.2" stroke-width="1.2" />
<path d="M473.0,617.5 C474.0,616.1 474.5,614.2 475.9,613.2 C477.4,612.1 479.5,611.9 481.4,611.8 C483.2,611.7 485.1,612.2 486.8,612.8 C488.8,613.5 490.7,614.7 492.6,615.7" stroke-width="1.6" />
<path d="M484.6,618.3 C485.0,617.2 485.8,616.1 486.8,615.5 C487.9,614.9 489.2,614.6 490.4,614.8 C491.5,615.0 492.6,615.5 493.2,616.4 C493.7,617.4 493.8,618.7 493.3,619.7 C492.8,621.0 491.6,621.9 490.4,622.6 C489.6,623.1 488.5,623.7 487.5,623.3 C486.4,622.9 485.8,621.5 485.2,620.4 C484.8,619.8 484.4,619.0 484.6,618.3 Z" stroke-width="1.9" />
<ellipse cx="488.9825581395349" cy="618.6191860465117" rx="2.6" ry="1.6" stroke-width="1.3" />
<path d="M493.2,616.4 C493.0,614.5 492.6,612.6 492.8,610.6 C492.9,609.3 493.4,608.1 494.1,607.0 C494.7,606.0 495.5,604.8 496.6,604.5 C497.5,604.3 498.4,605.0 499.2,605.5 C499.9,606.1 500.5,606.9 501.2,607.5 C501.8,607.4 502.5,607.0 503.2,607.2 C504.0,607.5 504.9,608.2 505.3,609.0 C506.0,610.1 506.6,611.5 506.4,612.8 C506.3,613.7 505.3,614.2 504.6,614.6 C503.1,615.5 501.5,616.1 499.9,616.8 C501.1,618.9 502.5,620.8 503.5,623.0 C504.0,624.0 504.6,625.2 504.2,626.2 C503.8,627.6 502.6,628.9 501.3,629.5 C499.1,630.6 496.6,631.5 494.1,631.3 C492.0,631.2 490.1,629.7 488.3,628.8 C487.2,628.3 486.3,627.6 485.3,627.0 C483.7,627.6 481.9,628.1 480.3,628.8 C479.1,629.3 478.1,629.9 477.0,630.4" stroke-width="1.6" />
<path d="M495.9,606.6 C496.4,608.1 497.1,609.5 497.3,611.0 C497.7,612.7 497.6,614.4 497.7,616.1" stroke-width="1.2" />
<path d="M499.3,605.9 C499.6,607.4 500.0,608.8 500.1,610.3 C500.1,612.4 499.8,614.6 499.7,616.8" stroke-width="1.2" />
<path d="M485.3,627.0 C485.4,626.0 485.1,624.9 485.5,624.1 C485.9,623.3 486.9,623.1 487.5,622.6" stroke-width="1.2" />
<polyline points="489.0,595.0 489.0,618.0" stroke-width="1.5" />
<path d="M708.2,545.5 C709.3,541.9 709.2,537.5 711.8,534.6 C713.8,532.3 717.5,531.5 720.5,531.7 C723.8,532.0 727.2,533.6 729.2,536.1 C731.4,538.6 731.9,542.2 732.2,545.5 C732.4,548.5 732.5,551.9 730.7,554.2 C728.3,557.3 724.4,559.5 720.5,560.1 C717.5,560.5 714.2,559.1 711.8,557.2 C709.5,555.2 708.3,552.1 707.4,549.2 C707.1,548.0 707.8,546.7 708.2,545.5 Z" stroke-width="1.5" />
<path d="M710.3,550.6 C711.6,548.3 712.0,545.4 714.0,543.7 C715.7,542.3 718.3,542.2 720.5,542.3 C722.8,542.3 725.3,542.6 727.1,544.1 C728.7,545.4 729.8,547.7 730.0,549.9 C730.1,551.5 728.5,552.8 727.8,554.2" stroke-width="1.5" />
<path d="M712.5,539.0 C714.0,538.0 715.3,536.8 716.9,536.1 C718.5,535.3 720.3,535.1 722.0,534.6" stroke-width="2" />
<path d="M720.5,531.7 L720.9,527.7 L724.2,537.5" stroke-width="1.5" />
<path d="M730.0,538.3 L740.1,535.3 L740.9,539.0 L730.7,541.9" stroke-width="1.5" />
<path d="M730.7,543.3 L740.1,541.5 L740.9,545.5 L731.4,547.7" stroke-width="1.5" />
<path d="M709.4,583.6 C709.4,580.5 708.6,577.2 709.4,574.2 C710.1,572.0 711.7,570.1 713.7,569.0 C715.6,567.9 718.1,567.8 720.3,568.0 C722.6,568.3 725.4,568.6 726.9,570.4 C728.9,572.6 729.3,575.9 729.7,578.9 C730.2,582.0 730.3,585.2 729.7,588.3 C729.3,591.0 728.5,593.7 726.9,595.9 C725.2,598.3 722.6,599.8 720.3,601.6 C704.4,613.5 688.3,625.3 672.1,637.0 C671.6,637.4 670.9,637.4 670.2,637.7 L681.6,643.1" stroke-width="1.5" />
<path d="M709.4,583.6 C701.4,589.6 693.3,595.4 685.3,601.6 C675.8,609.0 665.8,615.9 657.0,624.2 C654.3,626.8 652.4,630.2 651.3,633.7 C650.4,636.7 650.2,640.2 651.3,643.1 C652.9,647.1 655.6,650.7 658.9,653.5 C662.4,656.6 667.1,657.9 671.2,660.1" stroke-width="1.5" />
<path d="M671.2,660.1 C669.7,657.3 668.4,653.8 669.3,650.7 C670.2,647.5 673.0,644.9 675.9,643.1 C677.5,642.1 680.1,642.0 681.6,643.1 C683.5,644.6 684.4,647.4 684.4,649.7 C684.4,652.7 683.4,655.9 681.6,658.3 C680.0,660.2 677.4,661.1 675.0,661.6 C673.6,661.8 671.8,661.3 671.2,660.1 Z" stroke-width="1.5" />
<ellipse cx="676.3722248464809" cy="652.5838450637694" rx="4.8" ry="7.6" stroke-width="1.5" transform="rotate(20 676.4 652.6)"/>
<path d="M690.1,665.8 C690.5,663.9 690.4,661.8 691.5,660.1 C692.7,658.2 694.5,656.3 696.7,655.4 C699.6,654.3 703.0,654.0 706.1,654.5 C708.9,654.9 711.9,656.1 713.7,658.3 C715.4,660.2 715.6,663.2 715.6,665.8 C715.6,668.4 715.1,671.2 713.7,673.4 C711.8,676.2 709.0,678.3 706.1,680.0 C704.5,680.9 702.3,681.6 700.5,680.9 C697.5,679.9 695.1,677.5 692.9,675.3 C691.3,673.7 689.8,671.8 689.1,669.6 C688.8,668.3 689.8,667.1 690.1,665.8 Z" stroke-width="1.5" />
<path d="M700.5,671.5 C701.7,668.6 702.0,665.2 704.2,663.0 C706.1,661.1 709.1,659.7 711.8,660.1 C713.8,660.5 715.5,662.9 715.6,664.9 C715.8,668.4 714.8,672.3 712.7,675.3 C711.1,677.7 708.1,679.3 705.2,680.0 C703.5,680.4 702.0,678.7 700.5,678.1" stroke-width="1.5" />
<path d="M701.4,653.5 L704.2,645.0 L709.0,646.9 L707.1,654.5" stroke-width="1.5" />
<path d="M708.0,655.4 L709.9,648.8 L714.6,650.7 L712.7,657.3" stroke-width="1.5" />
<path d="M692.9,660.6 L706.1,655.9" stroke-width="1.5" />
<path d="M694.8,663.9 L696.7,669.6 L697.6,663.9 L694.8,663.9" stroke-width="1.5" />
<path d="M730.3,689.6 C729.0,689.0 727.7,688.1 726.3,687.9 C725.3,687.7 724.3,688.6 723.3,688.3 C722.4,688.1 721.6,687.4 721.1,686.6 C720.5,685.5 720.2,684.3 720.2,683.1 C720.2,681.6 720.5,680.1 721.1,678.7 C721.7,677.3 722.5,676.0 723.7,675.0 C724.7,674.2 726.0,674.0 727.2,673.8 C728.4,673.7 729.7,673.7 730.7,674.3 C731.6,674.8 731.9,676.1 732.4,677.0" stroke-width="1.7" />
<path d="M723.7,675.9 C724.7,675.6 725.7,675.1 726.8,675.0 C727.8,675.0 728.9,675.2 729.8,675.7 C730.5,676.0 730.8,676.7 731.4,677.2" stroke-width="1.2" />
<path d="M735.9,680.5 C735.1,680.6 734.0,680.4 733.3,680.9 C732.7,681.4 732.9,682.4 732.4,683.1 C731.9,683.9 730.6,684.3 730.3,685.3 C729.8,686.6 730.3,688.2 730.3,689.6" stroke-width="1.3" />
<path d="M732.4,677.4 L735.9,680.5 L754.2,691.4" stroke-width="1.5" />
<path d="M730.3,689.6 L752.1,701.8" stroke-width="1.5" />
<ellipse cx="754.9" cy="696.8" rx="2.9" ry="5.4" stroke-width="1.5" transform="rotate(25 754.9 696.8)"/>
<path d="M745.1,691.8 L752.5,694.4 L753.4,700.5 L745.5,697.9 L745.1,691.8" stroke-width="1.9" />
<polyline points="760.4,700.5 775.0,708.4" stroke-width="1.5" />
<polyline points="741.5,696.2 745.0,696.2" stroke-width="1.5" />
<path d="M776.2,700.2 L775.3,695.8 L783.1,688.8 L783.1,683.6 L775.3,680.1 C775.6,678.7 775.2,676.9 776.2,675.8 C778.6,672.9 781.8,670.9 784.9,668.8 C791.7,664.2 798.8,660.1 805.8,655.7 L854.7,655.3 L859.9,657.4 L895.6,678.4 C896.5,679.2 898.0,679.8 898.3,681.0 C898.6,682.4 896.7,684.0 897.4,685.4 C898.2,686.9 900.1,687.7 901.8,688.0 C904.6,688.4 907.6,686.6 910.5,687.1 C913.0,687.5 915.4,688.9 917.5,690.6 C918.8,691.7 919.9,693.3 920.1,694.9 C920.2,696.2 917.5,697.4 918.3,698.4 C919.7,700.1 922.3,700.0 924.4,700.2 C926.8,700.3 929.1,699.6 931.4,699.3 L970.7,720.6 L971.5,723.7 L971.5,755.1 L968.9,757.2 L961.1,760.4 L940.1,769.1 L932.3,768.2 L924.4,765.2 L914.0,765.2 L903.5,769.4 L900.0,769.9 L776.2,700.2" stroke-width="1.5" />
<path d="M776.2,700.2 L777.0,701.9 L900.0,772.6 L905.2,772.6 L914.8,768.2 L924.4,768.2 L933.2,771.7 L941.0,771.7 L961.9,763.0 L971.5,758.3" stroke-width="1.5" />
<path d="M816.3,692.3 C816.0,689.4 814.7,686.5 815.4,683.6 C816.0,681.2 817.5,678.6 819.8,677.5 C823.5,675.7 828.0,674.8 832.0,675.8 C841.1,677.8 849.4,682.7 858.1,686.2 C880.2,698.7 903.5,709.4 924.4,723.7 C927.9,726.1 929.3,730.9 929.7,735.1 C929.9,738.2 928.7,742.0 926.2,743.8 C922.8,746.2 918.1,746.6 914.0,746.4 C910.3,746.3 907.0,744.1 903.5,742.9 L889.5,735.6 L889.5,730.7 C887.8,732.4 886.4,734.6 884.3,735.9 C881.7,737.6 878.7,739.4 875.6,739.4 C870.8,739.4 866.3,737.1 861.6,735.9 L835.5,718.5 C833.7,717.3 831.4,716.8 830.2,715.0 C829.1,713.3 828.9,710.9 829.4,708.9 C829.8,707.2 831.7,706.2 832.9,704.9 L816.3,692.3" stroke-width="1.5" />
<path d="M823.3,678.4 C827.9,678.1 832.7,676.4 837.2,677.5 C845.8,679.7 853.5,684.5 861.6,688.0" stroke-width="2.2" />
<path d="M818.0,685.7 L830.8,694.6 L843.5,692.2" stroke-width="1.5" />
<path d="M849.4,695.8 L912.2,719.4" stroke-width="1.5" />
<path d="M851.2,722.0 L882.6,737.7" stroke-width="1.5" />
<path d="M843.5,690.9 L837.2,713.8" stroke-width="1.5" />
<path d="M838.1,716.7 L844.2,715.0 L844.2,723.7" stroke-width="1.5" />
<path d="M903.5,739.4 L919.2,730.7 L924.4,734.2" stroke-width="1.5" />
<ellipse cx="831.1093668236525" cy="690.0610500610501" rx="3.2" ry="2" stroke-width="1.5" />
<ellipse cx="913.9630211058783" cy="738.0289551718123" rx="4" ry="2.5" stroke-width="1.8" />
<path d="M938.4,719.4 C939.5,718.5 940.4,716.7 941.9,716.7 C943.8,716.7 946.0,717.7 947.1,719.4 C947.7,720.2 946.4,721.7 945.4,722.0 C943.6,722.4 941.9,721.4 940.1,721.1" stroke-width="1.5" />
<polyline points="914.0,642.6 914.0,737.7" stroke-width="1.5" />
<path d="M825.9,736.8 L825.9,751.6 L823.3,753.4 L826.7,763.8 L876.5,790.9 L886.9,803.1 L908.7,788.3 L908.7,772.6" stroke-width="1.5" />
<path d="M812.8,730.7 C812.2,733.0 810.4,735.4 811.1,737.7 C811.7,740.1 814.1,741.8 816.3,742.9 C818.9,744.2 822.1,744.1 825.0,744.7" stroke-width="1.5" />
<path d="M877.3,765.6 L877.0,791.8" stroke-width="1.5" />
<path d="M898.3,773.4 L898.3,777.8 L905.2,784.8 L905.2,772.6" stroke-width="1.5" />
<path d="M887.8,776.9 L898.3,772.6" stroke-width="1.5" />
<ellipse cx="819.7714983429269" cy="735.0636664922379" rx="4.8" ry="5.5" stroke-width="1.5" transform="rotate(-25 819.8 735.1)"/>
<ellipse cx="819.7714983429269" cy="735.0636664922379" rx="2.6" ry="3.2" stroke-width="1.2" transform="rotate(-25 819.8 735.1)"/>
<ellipse cx="820.6436420722135" cy="760.3558346415489" rx="4.8" ry="5.5" stroke-width="1.5" transform="rotate(-25 820.6 760.4)"/>
<ellipse cx="820.6436420722135" cy="760.3558346415489" rx="2.6" ry="3.2" stroke-width="1.2" transform="rotate(-25 820.6 760.4)"/>
<ellipse cx="882.5658468515611" cy="769.9494156637014" rx="4.8" ry="5.5" stroke-width="1.5" transform="rotate(-25 882.6 769.9)"/>
<ellipse cx="882.5658468515611" cy="769.9494156637014" rx="2.6" ry="3.2" stroke-width="1.2" transform="rotate(-25 882.6 769.9)"/>
<ellipse cx="882.5658468515611" cy="796.113727542299" rx="4.8" ry="5.5" stroke-width="1.5" transform="rotate(-25 882.6 796.1)"/>
<ellipse cx="882.5658468515611" cy="796.113727542299" rx="2.6" ry="3.2" stroke-width="1.2" transform="rotate(-25 882.6 796.1)"/>
<ellipse cx="832.3303680446538" cy="753.7275422989709" rx="3.2" ry="3.8" stroke-width="1.5" />
<ellipse cx="863.0298273155416" cy="770.821559392988" rx="3" ry="3.5" stroke-width="1.5" />
<ellipse cx="849.4243851386709" cy="777.7987092272806" rx="3" ry="3.5" stroke-width="1.5" />
<polyline points="760.5,700.2 802.3,725.5" stroke-width="1.5" />
<polyline points="805.8,742.9 812.8,739.8" stroke-width="1.5" />
<polyline points="870.4,802.2 879.9,797.5" stroke-width="1.5" />
<polyline points="877.2,774.3 841.2,795.2 892.3,825.4 862.0,843.4" stroke-width="1.5" />
<polyline points="832.0,824.9 854.7,812.7" stroke-width="1.5" />
<g transform="translate(700.1 804.6) rotate(-29.5)"><path d="M-3,-8 Q-9,-8 -9,0 Q-9,8 -3,8 L5,8 L5,-8 Z" stroke-width="1.4"/><path d="M-3,-8 Q1,-6 -1,0 Q1,6 -3,8" stroke-width="1.1"/><path d="M-1,-4 L5,-4 M-1,4 L5,4" stroke-width="1.1"/><ellipse cx="6" cy="0.5" rx="3" ry="9" stroke-width="1.4"/></g>
<polyline points="709.7,802.4 801.6,750.4" stroke-width="1.4" />
<polyline points="707.0,797.5 798.9,745.5" stroke-width="1.4" />
<polyline points="801.6,750.4 801.5,747.2 798.9,745.5" stroke-width="1.4" />
<polyline points="785.9,759.3 784.4,753.7" stroke-width="1.1" />
<polyline points="789.5,757.2 788.1,751.6" stroke-width="1.1" />
<polyline points="793.2,755.2 791.7,749.5" stroke-width="1.1" />
<polyline points="796.9,753.1 795.4,747.5" stroke-width="1.1" />
<g transform="translate(723.1 888.4) rotate(-29.5)"><path d="M-3,-8 Q-9,-8 -9,0 Q-9,8 -3,8 L5,8 L5,-8 Z" stroke-width="1.4"/><path d="M-3,-8 Q1,-6 -1,0 Q1,6 -3,8" stroke-width="1.1"/><path d="M-1,-4 L5,-4 M-1,4 L5,4" stroke-width="1.1"/><ellipse cx="6" cy="0.5" rx="3" ry="9" stroke-width="1.4"/></g>
<polyline points="732.8,886.1 824.7,834.1" stroke-width="1.4" />
<polyline points="730.0,881.2 821.9,829.2" stroke-width="1.4" />
<polyline points="824.7,834.1 824.6,830.9 821.9,829.2" stroke-width="1.4" />
<polyline points="808.9,843.0 807.5,837.4" stroke-width="1.1" />
<polyline points="812.6,840.9 811.1,835.3" stroke-width="1.1" />
<polyline points="816.2,838.9 814.8,833.3" stroke-width="1.1" />
<polyline points="819.9,836.8 818.5,831.2" stroke-width="1.1" />
<polyline points="704.2,827.3 815.7,762.1" stroke-width="1.5" />
<path d="M686.6,828.5 C687.3,827.4 688.9,826.8 690.3,826.6 C691.4,826.4 692.5,826.9 693.5,827.4 C694.4,827.8 695.2,828.4 695.7,829.2 C696.9,830.7 697.8,832.4 698.5,834.2 C699.1,835.4 699.7,836.6 699.6,837.9 C699.5,839.3 699.0,840.8 697.9,841.6 C696.7,842.5 695.0,842.5 693.5,842.5 C692.9,842.5 692.4,842.0 692.0,841.6 C690.3,840.1 688.4,838.7 687.2,836.8 C686.4,835.5 686.5,833.9 686.3,832.4 C686.2,831.1 685.8,829.6 686.6,828.5 Z" stroke-width="1.6" />
<path d="M689.2,832.2 C689.5,831.6 690.2,831.1 690.9,831.1 C691.8,831.2 692.7,831.8 693.3,832.4 C694.1,833.4 694.7,834.5 695.1,835.7 C695.2,836.3 695.3,837.2 694.8,837.7 C694.4,838.1 693.6,838.1 693.1,837.9 C692.3,837.5 691.7,836.6 691.1,835.9 C690.6,835.3 690.0,834.5 689.6,833.7 C689.4,833.3 688.9,832.7 689.2,832.2 Z" stroke-width="1.5" />
<path d="M648.6,850.7 C649.2,849.5 649.5,848.0 650.5,847.1 C651.6,846.0 653.2,845.1 654.8,845.2 C656.6,845.2 658.4,846.2 659.9,847.4 C661.4,848.5 662.6,850.1 663.5,851.8 C664.2,853.1 664.4,854.6 664.6,856.1 C664.7,857.3 664.8,858.6 664.3,859.8 C663.7,861.1 662.6,862.2 661.4,863.0 C660.3,863.7 658.9,863.7 657.7,864.1" stroke-width="1.5" />
<path d="M645.4,852.1 L648.6,850.7 L653.4,849.1 L657.7,850.1 L661.4,857.2 L659.9,861.6 L655.5,864.1 C654.5,864.4 653.6,865.3 652.6,865.2 C651.0,864.9 649.4,864.1 648.3,863.0 C647.1,861.8 646.1,860.3 645.7,858.7 C645.1,856.5 645.5,854.3 645.4,852.1" stroke-width="1.5" />
<path d="M653.4,849.1 L653.7,853.6 L661.4,857.2" stroke-width="1.3" />
<path d="M653.7,853.6 L655.9,859.4 L655.5,864.1" stroke-width="1.3" />
<path d="M655.9,859.4 L661.0,857.5" stroke-width="1.2" />
<ellipse cx="650.6" cy="858.5" rx="2.8" ry="4" stroke-width="1.4" transform="rotate(-15 650.6 858.5)"/>
<path d="M841.3,845.9 C841.9,844.7 842.2,843.2 843.2,842.3 C844.4,841.3 845.9,840.4 847.5,840.4 C849.4,840.5 851.1,841.5 852.6,842.6 C854.1,843.8 855.3,845.4 856.2,847.0 C856.9,848.3 857.2,849.9 857.3,851.3 C857.4,852.6 857.5,853.9 857.0,855.0 C856.4,856.3 855.3,857.5 854.1,858.2 C853.0,858.9 851.6,859.0 850.4,859.3" stroke-width="1.5" />
<path d="M838.1,847.3 L841.3,845.9 L846.1,844.3 L850.4,845.3 L854.1,852.4 L852.6,856.8 L848.2,859.3 C847.2,859.7 846.3,860.6 845.3,860.4 C843.7,860.2 842.2,859.3 841.0,858.2 C839.8,857.1 838.8,855.6 838.4,853.9 C837.8,851.8 838.2,849.5 838.1,847.3" stroke-width="1.5" />
<path d="M846.1,844.3 L846.4,848.8 L854.1,852.4" stroke-width="1.3" />
<path d="M846.4,848.8 L848.6,854.6 L848.2,859.3" stroke-width="1.3" />
<path d="M848.6,854.6 L853.7,852.7" stroke-width="1.2" />
<ellipse cx="843.3" cy="853.7" rx="2.8" ry="4" stroke-width="1.4" transform="rotate(-15 843.3 853.7)"/>
<path d="M1043.1,846.2 C1043.0,844.1 1042.1,841.8 1042.8,839.7 C1043.2,838.4 1044.8,837.6 1046.0,837.1 C1047.5,836.5 1049.1,836.3 1050.6,836.3 C1052.2,836.3 1053.8,836.5 1055.2,837.1 C1056.5,837.6 1057.7,838.6 1058.5,839.7 C1059.1,840.5 1059.1,841.6 1059.1,842.6 C1059.1,845.0 1058.7,847.4 1058.5,849.8" stroke-width="1.5" />
<path d="M1043.4,840.4 L1046.7,844.9 L1055.5,844.9 L1058.5,841.7" stroke-width="1.4" />
<path d="M1046.7,844.9 L1047.0,851.8 L1054.9,851.8 L1054.9,844.9" stroke-width="1.4" />
<path d="M1043.1,846.2 L1045.1,850.8" stroke-width="1.3" />
<path d="M1040.2,846.2 C1040.4,848.2 1040.0,850.3 1040.8,852.1 C1041.5,853.6 1042.9,854.8 1044.4,855.4 C1046.2,856.1 1048.3,856.1 1050.3,856.0 C1052.6,856.0 1055.0,855.9 1057.2,855.1 C1058.6,854.5 1060.2,853.5 1060.8,852.1 C1061.5,850.3 1060.9,848.2 1060.9,846.2" stroke-width="1.5" />
<path d="M1041.5,850.5 C1043.2,851.4 1044.8,852.7 1046.7,853.1 C1049.2,853.6 1051.7,853.5 1054.2,853.1 C1056.0,852.8 1057.5,851.8 1059.1,851.1" stroke-width="1.3" />
<path d="M1046.0,856.0 L1046.0,865.9 C1047.1,866.4 1048.1,867.2 1049.3,867.5 C1050.4,867.8 1051.5,867.8 1052.6,867.5 C1053.7,867.1 1054.6,866.2 1055.5,865.5 L1055.5,856.0" stroke-width="1.5" />
<path d="M1046.7,858.3 C1047.9,858.5 1049.1,858.9 1050.3,858.8 C1051.1,858.8 1051.8,858.3 1052.6,858.0" stroke-width="1.2" />
<path d="M1047.4,862.6 C1048.3,863.0 1049.2,863.8 1050.3,863.9 C1051.0,863.9 1051.6,863.2 1052.3,862.9" stroke-width="1.2" />
<path d="M792.6,909.4 C794.6,907.7 797.0,906.0 799.6,905.9 C808.4,905.6 817.1,906.8 825.8,908.3 C829.8,909.0 833.7,910.6 837.3,912.5 C839.6,913.6 841.7,915.2 843.2,917.2 C845.6,920.5 847.6,924.3 848.9,928.1 C849.4,929.6 849.6,931.8 848.4,932.7 C846.2,934.5 843.0,935.1 840.1,935.1 C833.4,935.3 826.6,934.5 819.9,933.4 C814.9,932.5 809.8,931.6 805.3,929.2 C802.8,927.9 801.3,925.2 799.6,922.9 C797.0,919.4 794.6,915.7 792.6,911.8 C792.3,911.1 792.0,909.9 792.6,909.4 Z" stroke-width="1.5" />
<path d="M806.6,918.3 C807.9,916.0 810.3,914.1 812.9,913.1 C816.0,911.9 819.5,911.6 822.7,912.2 C826.7,913.0 830.8,914.4 833.8,917.0 C835.3,918.3 836.0,921.2 834.9,922.9 C833.2,925.6 829.9,927.2 826.9,928.1 C823.2,929.3 819.1,929.7 815.3,928.8 C812.1,928.1 809.1,926.1 807.0,923.6 C805.9,922.2 805.7,919.9 806.6,918.3 Z" stroke-width="1.5" />
<ellipse cx="800.6892958360584" cy="910.9256812731633" rx="4.360148245040332" ry="2.8340963592762156" stroke-width="1.4" />
<ellipse cx="840.1486374536734" cy="929.8923261390887" rx="4.360148245040332" ry="2.8340963592762156" stroke-width="1.4" />
<path d="M999.7,909.4 C1001.7,907.7 1004.1,906.0 1006.7,905.9 C1015.5,905.6 1024.2,906.8 1032.9,908.3 C1036.9,909.0 1040.8,910.6 1044.4,912.5 C1046.7,913.6 1048.8,915.2 1050.3,917.2 C1052.7,920.5 1054.7,924.3 1056.0,928.1 C1056.5,929.6 1056.7,931.8 1055.5,932.7 C1053.3,934.5 1050.1,935.1 1047.2,935.1 C1040.5,935.3 1033.7,934.5 1027.0,933.4 C1022.0,932.5 1016.9,931.6 1012.4,929.2 C1009.9,927.9 1008.4,925.2 1006.7,922.9 C1004.1,919.4 1001.7,915.7 999.7,911.8 C999.4,911.1 999.1,909.9 999.7,909.4 Z" stroke-width="1.5" />
<path d="M1013.7,918.3 C1015.0,916.0 1017.4,914.1 1020.0,913.1 C1023.1,911.9 1026.6,911.6 1029.8,912.2 C1033.8,913.0 1037.9,914.4 1040.9,917.0 C1042.4,918.3 1043.1,921.2 1042.0,922.9 C1040.3,925.6 1037.0,927.2 1034.0,928.1 C1030.3,929.3 1026.2,929.7 1022.4,928.8 C1019.2,928.1 1016.2,926.1 1014.1,923.6 C1013.0,922.2 1012.8,919.9 1013.7,918.3 Z" stroke-width="1.5" />
<ellipse cx="1007.7892958360584" cy="910.9256812731633" rx="4.360148245040332" ry="2.8340963592762156" stroke-width="1.4" />
<ellipse cx="1047.2486374536734" cy="929.8923261390887" rx="4.360148245040332" ry="2.8340963592762156" stroke-width="1.4" />
<path d="M837.8,979.7 C837.3,979.7 836.8,980.0 836.4,979.7 C834.7,978.7 832.8,977.7 831.7,976.1 C830.9,975.0 830.9,973.4 830.9,972.1 C831.0,970.6 831.0,968.9 832.0,967.7 C833.0,966.5 834.8,965.8 836.4,965.5 C838.7,965.1 841.3,965.0 843.6,965.5 C845.4,965.9 847.1,966.8 848.3,968.1 C849.3,969.0 849.7,970.4 849.8,971.7 C849.9,972.9 849.9,974.4 849.1,975.4 C847.7,977.1 845.5,978.1 843.6,979.3 C843.4,979.5 843.1,979.3 842.9,979.3" stroke-width="1.4" />
<path d="M837.8,979.7 L838.2,972.4 C837.3,972.3 836.1,972.8 835.6,972.1 C835.1,971.3 835.3,969.9 836.0,969.2 C837.1,968.1 838.8,967.4 840.4,967.4 C841.9,967.4 843.5,968.1 844.7,969.2 C845.4,969.7 845.9,971.0 845.5,971.7 C844.9,972.5 843.5,972.2 842.6,972.4 L842.9,979.3" stroke-width="1.4" />
<path d="M837.1,971.0 C838.2,970.4 839.1,969.2 840.4,969.2 C841.8,969.1 843.0,970.1 844.4,970.6" stroke-width="1.1" />
<polyline points="832.4,973.9 833.9,974.6" stroke-width="1.1" />
<polyline points="846.1,974.8 848.3,973.7" stroke-width="1.1" />
<path d="M830.6,992.4 C831.0,991.5 831.2,990.3 832.0,989.5 C833.2,988.5 834.8,987.7 836.4,987.4 C838.9,986.9 841.5,987.0 844.0,987.4 C845.8,987.6 847.6,988.2 849.1,989.2 C850.0,989.8 850.3,991.1 850.9,992.0" stroke-width="1.4" />
<path d="M830.6,992.4 L833.1,994.6 L835.3,997.5 L845.5,997.5 L847.6,995.0 L850.9,992.0" stroke-width="1.4" />
<path d="M830.4,992.9 L830.4,1000.8 C832.0,1001.9 833.5,1003.2 835.3,1004.1 C836.5,1004.7 837.9,1005.2 839.3,1005.2 C841.4,1005.2 843.5,1004.9 845.5,1004.1 C847.4,1003.3 848.8,1001.7 850.5,1000.4 L850.9,992.0" stroke-width="1.4" />
<polyline points="835.3,997.5 835.3,1004.1" stroke-width="1.3" />
<polyline points="845.5,997.5 845.5,1004.1" stroke-width="1.3" />
<ellipse cx="840.1744059298017" cy="992.0772836276434" rx="5.0141704817963815" ry="2.8340963592762156" stroke-width="1.3" />
<path d="M837.4,993.3 C838.4,992.8 839.3,991.8 840.4,991.8 C841.4,991.8 842.2,992.8 843.1,993.3" stroke-width="1.0" />
<path d="M1043.8,979.7 C1043.3,979.7 1042.8,980.0 1042.4,979.7 C1040.7,978.7 1038.8,977.7 1037.7,976.1 C1036.9,975.0 1036.9,973.4 1036.9,972.1 C1037.0,970.6 1037.0,968.9 1038.0,967.7 C1039.0,966.5 1040.8,965.8 1042.4,965.5 C1044.7,965.1 1047.3,965.0 1049.6,965.5 C1051.4,965.9 1053.1,966.8 1054.3,968.1 C1055.3,969.0 1055.7,970.4 1055.8,971.7 C1055.9,972.9 1055.9,974.4 1055.1,975.4 C1053.7,977.1 1051.5,978.1 1049.6,979.3 C1049.4,979.5 1049.1,979.3 1048.9,979.3" stroke-width="1.4" />
<path d="M1043.8,979.7 L1044.2,972.4 C1043.3,972.3 1042.1,972.8 1041.6,972.1 C1041.1,971.3 1041.3,969.9 1042.0,969.2 C1043.1,968.1 1044.8,967.4 1046.4,967.4 C1047.9,967.4 1049.5,968.1 1050.7,969.2 C1051.4,969.7 1051.9,971.0 1051.5,971.7 C1050.9,972.5 1049.5,972.2 1048.6,972.4 L1048.9,979.3" stroke-width="1.4" />
<path d="M1043.1,971.0 C1044.2,970.4 1045.1,969.2 1046.4,969.2 C1047.8,969.1 1049.0,970.1 1050.4,970.6" stroke-width="1.1" />
<polyline points="1038.4,973.9 1039.9,974.6" stroke-width="1.1" />
<polyline points="1052.1,974.8 1054.3,973.7" stroke-width="1.1" />
<path d="M1036.6,992.4 C1037.0,991.5 1037.2,990.3 1038.0,989.5 C1039.2,988.5 1040.8,987.7 1042.4,987.4 C1044.9,986.9 1047.5,987.0 1050.0,987.4 C1051.8,987.6 1053.6,988.2 1055.1,989.2 C1056.0,989.8 1056.3,991.1 1056.9,992.0" stroke-width="1.4" />
<path d="M1036.6,992.4 L1039.1,994.6 L1041.3,997.5 L1051.5,997.5 L1053.6,995.0 L1056.9,992.0" stroke-width="1.4" />
<path d="M1036.4,992.9 L1036.4,1000.8 C1038.0,1001.9 1039.5,1003.2 1041.3,1004.1 C1042.5,1004.7 1043.9,1005.2 1045.3,1005.2 C1047.4,1005.2 1049.5,1004.9 1051.5,1004.1 C1053.4,1003.3 1054.8,1001.7 1056.5,1000.4 L1056.9,992.0" stroke-width="1.4" />
<polyline points="1041.3,997.5 1041.3,1004.1" stroke-width="1.3" />
<polyline points="1051.5,997.5 1051.5,1004.1" stroke-width="1.3" />
<ellipse cx="1046.1744059298017" cy="992.0772836276434" rx="5.0141704817963815" ry="2.8340963592762156" stroke-width="1.3" />
<path d="M1043.4,993.3 C1044.4,992.8 1045.3,991.8 1046.4,991.8 C1047.4,991.8 1048.2,992.8 1049.1,993.3" stroke-width="1.0" />
<polyline points="840.5,941.0 840.5,966.0" stroke-width="1.5" />
<polyline points="1046.5,950.0 1046.5,966.0" stroke-width="1.5" />
<polyline points="845.4,921.4 899.9,921.4" stroke-width="1.5" />
<polyline points="849.8,972.6 904.3,972.6" stroke-width="1.5" />
<polyline points="850.9,995.5 905.4,995.5" stroke-width="1.5" />
<path d="M326.9,893.6 C328.9,891.9 331.3,890.2 333.9,890.1 C342.7,889.8 351.4,891.0 360.1,892.5 C364.1,893.2 368.0,894.8 371.6,896.7 C373.9,897.8 376.0,899.4 377.5,901.4 C379.9,904.7 381.9,908.5 383.2,912.3 C383.7,913.8 383.9,916.0 382.7,916.9 C380.5,918.7 377.3,919.3 374.4,919.3 C367.7,919.5 360.9,918.7 354.2,917.6 C349.2,916.7 344.1,915.8 339.6,913.4 C337.1,912.1 335.6,909.4 333.9,907.1 C331.3,903.6 328.9,899.9 326.9,896.0 C326.6,895.3 326.3,894.1 326.9,893.6 Z" stroke-width="1.5" />
<path d="M340.9,902.5 C342.2,900.2 344.6,898.3 347.2,897.3 C350.3,896.1 353.8,895.8 357.0,896.4 C361.0,897.2 365.1,898.6 368.1,901.2 C369.6,902.5 370.3,905.4 369.2,907.1 C367.5,909.8 364.2,911.4 361.2,912.3 C357.5,913.5 353.4,913.9 349.6,913.0 C346.4,912.3 343.4,910.3 341.3,907.8 C340.2,906.4 340.0,904.1 340.9,902.5 Z" stroke-width="1.5" />
<ellipse cx="334.98929583605843" cy="895.1256812731633" rx="4.360148245040332" ry="2.8340963592762156" stroke-width="1.4" />
<ellipse cx="374.4486374536734" cy="914.0923261390888" rx="4.360148245040332" ry="2.8340963592762156" stroke-width="1.4" />
<path d="M537.7,1023.6 C539.7,1021.9 542.1,1020.2 544.7,1020.1 C553.5,1019.8 562.2,1021.0 570.9,1022.5 C574.9,1023.2 578.8,1024.8 582.4,1026.7 C584.7,1027.8 586.8,1029.4 588.3,1031.4 C590.7,1034.7 592.7,1038.5 594.0,1042.3 C594.5,1043.8 594.7,1046.0 593.5,1046.9 C591.3,1048.7 588.1,1049.3 585.2,1049.3 C578.5,1049.5 571.7,1048.7 565.0,1047.6 C560.0,1046.7 554.9,1045.8 550.4,1043.4 C547.9,1042.1 546.4,1039.4 544.7,1037.1 C542.1,1033.6 539.7,1029.9 537.7,1026.0 C537.4,1025.3 537.1,1024.1 537.7,1023.6 Z" stroke-width="1.5" />
<path d="M551.7,1032.5 C553.0,1030.2 555.4,1028.3 558.0,1027.3 C561.1,1026.1 564.6,1025.8 567.8,1026.4 C571.8,1027.2 575.9,1028.6 578.9,1031.2 C580.4,1032.5 581.1,1035.4 580.0,1037.1 C578.3,1039.8 575.0,1041.4 572.0,1042.3 C568.3,1043.5 564.2,1043.9 560.4,1043.0 C557.2,1042.3 554.2,1040.3 552.1,1037.8 C551.0,1036.4 550.8,1034.1 551.7,1032.5 Z" stroke-width="1.5" />
<ellipse cx="545.7892958360584" cy="1025.1256812731633" rx="4.360148245040332" ry="2.8340963592762156" stroke-width="1.4" />
<ellipse cx="585.2486374536734" cy="1044.0923261390888" rx="4.360148245040332" ry="2.8340963592762156" stroke-width="1.4" />
<path d="M326.9,928.0 C328.9,926.3 331.3,924.6 333.9,924.5 C342.7,924.2 351.4,925.4 360.1,926.9 C364.1,927.6 368.0,929.2 371.6,931.1 C373.9,932.2 376.0,933.8 377.5,935.8 C379.9,939.1 381.9,942.9 383.2,946.7 C383.7,948.2 383.9,950.4 382.7,951.3 C380.5,953.1 377.3,953.7 374.4,953.7 C367.7,953.9 360.9,953.1 354.2,952.0 C349.2,951.1 344.1,950.2 339.6,947.8 C337.1,946.5 335.6,943.8 333.9,941.5 C331.3,938.0 328.9,934.3 326.9,930.4 C326.6,929.7 326.3,928.5 326.9,928.0 Z" stroke-width="1.5" />
<path d="M340.9,936.9 C342.2,934.6 344.6,932.7 347.2,931.7 C350.3,930.5 353.8,930.2 357.0,930.8 C361.0,931.6 365.1,933.0 368.1,935.6 C369.6,936.9 370.3,939.8 369.2,941.5 C367.5,944.2 364.2,945.8 361.2,946.7 C357.5,947.9 353.4,948.3 349.6,947.4 C346.4,946.7 343.4,944.7 341.3,942.2 C340.2,940.8 340.0,938.5 340.9,936.9 Z" stroke-width="1.5" />
<ellipse cx="334.98929583605843" cy="929.5256812731633" rx="4.360148245040332" ry="2.8340963592762156" stroke-width="1.4" />
<ellipse cx="374.4486374536734" cy="948.4923261390887" rx="4.360148245040332" ry="2.8340963592762156" stroke-width="1.4" />
<path d="M326.9,930.4 C327.2,932.1 327.1,934.0 327.8,935.6 C329.4,939.5 331.5,943.1 333.9,946.5 C335.5,948.8 337.1,951.2 339.6,952.4 C344.1,954.7 349.2,955.9 354.2,956.8 C360.9,957.9 367.7,958.6 374.4,958.5 C377.3,958.5 380.5,958.1 382.7,956.3 C384.0,955.3 383.0,953.1 383.2,951.5" stroke-width="1.5" />
<ellipse cx="355.7" cy="938.9" rx="12.644429910616962" ry="7.194244604316547" stroke-width="1.2" />
<path d="M537.7,1066.8 C539.7,1065.1 542.1,1063.4 544.7,1063.3 C553.5,1063.0 562.2,1064.2 570.9,1065.7 C574.9,1066.4 578.8,1068.0 582.4,1069.9 C584.7,1071.0 586.8,1072.6 588.3,1074.6 C590.7,1077.9 592.7,1081.7 594.0,1085.5 C594.5,1087.0 594.7,1089.2 593.5,1090.1 C591.3,1091.9 588.1,1092.5 585.2,1092.5 C578.5,1092.7 571.7,1091.9 565.0,1090.8 C560.0,1089.9 554.9,1089.0 550.4,1086.6 C547.9,1085.3 546.4,1082.6 544.7,1080.3 C542.1,1076.8 539.7,1073.1 537.7,1069.2 C537.4,1068.5 537.1,1067.3 537.7,1066.8 Z" stroke-width="1.5" />
<path d="M551.7,1075.7 C553.0,1073.4 555.4,1071.5 558.0,1070.5 C561.1,1069.3 564.6,1069.0 567.8,1069.6 C571.8,1070.4 575.9,1071.8 578.9,1074.4 C580.4,1075.7 581.1,1078.6 580.0,1080.3 C578.3,1083.0 575.0,1084.6 572.0,1085.5 C568.3,1086.7 564.2,1087.1 560.4,1086.2 C557.2,1085.5 554.2,1083.5 552.1,1081.0 C551.0,1079.6 550.8,1077.3 551.7,1075.7 Z" stroke-width="1.5" />
<ellipse cx="545.7892958360584" cy="1068.3256812731634" rx="4.360148245040332" ry="2.8340963592762156" stroke-width="1.4" />
<ellipse cx="585.2486374536734" cy="1087.2923261390888" rx="4.360148245040332" ry="2.8340963592762156" stroke-width="1.4" />
<path d="M537.7,1069.2 C538.0,1070.9 537.9,1072.8 538.6,1074.4 C540.2,1078.3 542.3,1081.9 544.7,1085.3 C546.3,1087.6 547.9,1090.0 550.4,1091.2 C554.9,1093.5 560.0,1094.7 565.0,1095.6 C571.7,1096.7 578.5,1097.4 585.2,1097.3 C588.1,1097.3 591.3,1096.9 593.5,1095.1 C594.8,1094.1 593.8,1091.9 594.0,1090.3" stroke-width="1.5" />
<ellipse cx="566.5" cy="1077.7" rx="12.644429910616962" ry="7.194244604316547" stroke-width="1.2" />
<path d="M372.6,1022.6 C372.1,1022.6 371.6,1022.9 371.2,1022.6 C369.5,1021.6 367.6,1020.6 366.5,1019.0 C365.7,1017.9 365.7,1016.3 365.7,1015.0 C365.8,1013.5 365.8,1011.8 366.8,1010.6 C367.8,1009.4 369.6,1008.7 371.2,1008.4 C373.5,1008.0 376.1,1007.9 378.4,1008.4 C380.2,1008.8 381.9,1009.7 383.1,1011.0 C384.1,1011.9 384.5,1013.3 384.6,1014.6 C384.7,1015.8 384.7,1017.3 383.9,1018.3 C382.5,1020.0 380.3,1021.0 378.4,1022.2 C378.2,1022.4 377.9,1022.2 377.7,1022.2" stroke-width="1.4" />
<path d="M372.6,1022.6 L373.0,1015.3 C372.1,1015.2 370.9,1015.7 370.4,1015.0 C369.9,1014.2 370.1,1012.8 370.8,1012.1 C371.9,1011.0 373.6,1010.3 375.2,1010.3 C376.7,1010.3 378.3,1011.0 379.5,1012.1 C380.2,1012.6 380.7,1013.9 380.3,1014.6 C379.7,1015.4 378.3,1015.1 377.4,1015.3 L377.7,1022.2" stroke-width="1.4" />
<path d="M371.9,1013.9 C373.0,1013.3 373.9,1012.1 375.2,1012.1 C376.6,1012.0 377.8,1013.0 379.2,1013.5" stroke-width="1.1" />
<polyline points="367.2,1016.8 368.7,1017.5" stroke-width="1.1" />
<polyline points="380.9,1017.7 383.1,1016.6" stroke-width="1.1" />
<path d="M366.0,1035.9 C366.4,1035.0 366.6,1033.8 367.4,1033.0 C368.6,1032.0 370.2,1031.2 371.8,1030.9 C374.3,1030.4 376.9,1030.5 379.4,1030.9 C381.2,1031.1 383.0,1031.7 384.5,1032.7 C385.4,1033.3 385.7,1034.6 386.3,1035.5" stroke-width="1.4" />
<path d="M366.0,1035.9 L368.5,1038.1 L370.7,1041.0 L380.9,1041.0 L383.0,1038.5 L386.3,1035.5" stroke-width="1.4" />
<path d="M365.8,1036.4 L365.8,1044.3 C367.4,1045.4 368.9,1046.7 370.7,1047.6 C371.9,1048.2 373.3,1048.7 374.7,1048.7 C376.8,1048.7 378.9,1048.4 380.9,1047.6 C382.8,1046.8 384.2,1045.2 385.9,1043.9 L386.3,1035.5" stroke-width="1.4" />
<polyline points="370.7,1041.0 370.7,1047.6" stroke-width="1.3" />
<polyline points="380.9,1041.0 380.9,1047.6" stroke-width="1.3" />
<ellipse cx="375.57440592980157" cy="1035.5772836276433" rx="5.0141704817963815" ry="2.8340963592762156" stroke-width="1.3" />
<path d="M372.8,1036.8 C373.8,1036.3 374.7,1035.3 375.8,1035.3 C376.8,1035.3 377.6,1036.3 378.5,1036.8" stroke-width="1.0" />
<polyline points="375.4,968.0 375.4,1010.0" stroke-width="1.5" />
<path d="M340.0,953.6 C340.0,956.5 340.2,959.5 340.0,962.4 C339.8,967.7 340.6,973.1 339.1,978.1 C336.9,985.1 333.2,991.6 329.2,997.7 C324.0,1006.0 316.1,1012.6 311.6,1021.3 C308.5,1027.3 306.4,1034.2 306.7,1040.9 C307.0,1048.5 309.0,1056.5 313.5,1062.5 C318.3,1068.9 326.3,1072.2 333.2,1076.2 C388.7,1108.4 445.7,1138.0 500.7,1170.9 C503.2,1172.4 504.1,1175.9 504.6,1178.8 C505.4,1182.6 504.6,1186.6 504.6,1190.5" stroke-width="1.5" />
<path d="M370.5,958.1 C370.5,959.5 370.6,961.0 370.5,962.4 C369.3,971.6 369.6,981.1 366.5,989.9 C363.6,998.5 357.3,1005.6 352.8,1013.4 C347.5,1022.6 342.3,1031.8 337.1,1040.9 L498.8,1135.6 L498.8,1139.5 C501.4,1140.8 503.9,1142.3 506.6,1143.4 C511.8,1145.6 518.0,1145.7 522.3,1149.3 C527.0,1153.3 529.9,1159.3 532.1,1165.0 C534.3,1170.6 534.4,1176.8 535.1,1182.7 C535.4,1185.9 535.1,1189.2 535.1,1192.5" stroke-width="1.5" />
<ellipse cx="519.756671899529" cy="1195.4395604395604" rx="15.3" ry="10.8" stroke-width="1.5" />
<path d="M503.7,1190.5 C506.6,1189.2 509.3,1187.3 512.5,1186.6 C517.0,1185.6 521.7,1184.8 526.2,1185.6 C529.3,1186.2 531.5,1188.9 534.1,1190.5" stroke-width="1.1" />
<path d="M498.8,1135.6 C504.0,1133.0 509.4,1130.7 514.5,1127.7 C521.8,1123.5 529.6,1119.6 536.0,1114.0 C540.3,1110.3 543.2,1105.2 545.9,1100.3 C547.5,1097.3 547.8,1093.7 548.8,1090.5" stroke-width="1.5" />
<path d="M527.2,1154.2 C533.4,1150.6 540.2,1147.9 545.9,1143.4 C553.1,1137.7 559.8,1131.1 565.5,1123.8 C569.1,1119.2 570.8,1113.4 573.3,1108.1 C575.0,1104.6 576.6,1100.9 578.2,1097.3" stroke-width="1.5" />
<polyline points="583.1,1108.1 583.1,1290.0" stroke-width="1.5" />
<polyline points="519.8,1194.5 519.8,1245.5" stroke-width="1.5" />
<path d="M337.7,1245.1 L349.4,1226.8 L350.7,1169.2 C348.6,1166.2 347.0,1162.6 344.2,1160.1 C341.4,1157.6 337.6,1156.6 334.2,1154.9 L334.2,1150.9 C337.7,1149.4 341.7,1148.6 344.7,1146.2 C346.4,1144.9 348.1,1142.4 347.3,1140.5 C346.2,1137.6 343.1,1135.7 340.3,1134.7 C336.6,1133.4 332.4,1134.2 328.5,1133.9 L304.9,1147.0 L299.7,1192.8 L295.8,1194.1 L265.7,1224.2 C263.8,1229.4 261.2,1234.5 259.9,1239.9 C259.0,1244.2 257.9,1248.8 259.2,1253.0 C260.8,1258.8 265.3,1263.4 268.3,1268.7 L464.5,1378.6 C467.2,1379.2 469.7,1380.4 472.4,1380.4 C475.0,1380.3 477.5,1379.0 480.0,1378.3 L496.1,1363.1 L499.8,1359.4 L549.9,1344.2 L555.6,1339.0 L563.1,1322.5 L575.4,1318.7 L598.6,1305.5 L599.0,1301.7 L585.8,1293.7 C579.2,1296.5 572.8,1300.0 566.0,1302.2 C563.9,1302.9 561.5,1303.0 559.4,1302.2 C552.5,1299.6 546.4,1295.0 539.5,1292.3 C537.2,1291.4 534.5,1291.6 532.0,1291.3 L519.7,1293.2 L517.3,1294.6 L512.1,1313.1 L508.3,1320.6 C506.4,1321.7 504.9,1323.7 502.7,1323.9 C498.9,1324.2 495.1,1322.6 491.3,1322.0 C487.5,1321.4 483.8,1320.8 480.0,1320.2 L464.5,1317.1 L337.7,1245.1" stroke-width="1.5" />
<polyline points="306.3,1150.9 345.5,1171.9" stroke-width="1.5" />
<polyline points="303.6,1195.4 341.6,1216.3" stroke-width="1.5" />
<polyline points="273.5,1228.1 493.3,1355.0" stroke-width="1.5" />
<polyline points="521.0,1296.9 558.9,1318.7" stroke-width="1.5" />
<polyline points="514.0,1316.8 550.4,1338.1" stroke-width="1.5" />
<ellipse cx="333.7257980115123" cy="1141.7739403453688" rx="4.5" ry="2.6" stroke-width="1.5" />
<ellipse cx="289.24646781789636" cy="1216.342229199372" rx="4.5" ry="2.6" stroke-width="1.5" />
<ellipse cx="512.9513343799058" cy="1345.85557299843" rx="4.5" ry="2.6" stroke-width="1.5" />
<ellipse cx="583.5949764521192" cy="1300.0680272108843" rx="4" ry="2.4" stroke-width="1.5" />
<polyline points="583.1,1130.0 583.1,1300.1" stroke-width="1.5" />
<polyline points="583.1,1324.9 583.1,1340.6" stroke-width="1.5" />
<path d="M581.4,1354.1 C580.9,1354.1 580.4,1354.4 580.0,1354.1 C578.3,1353.1 576.4,1352.1 575.3,1350.5 C574.5,1349.4 574.5,1347.8 574.5,1346.5 C574.6,1345.0 574.6,1343.3 575.6,1342.1 C576.6,1340.9 578.4,1340.2 580.0,1339.9 C582.3,1339.5 584.9,1339.4 587.2,1339.9 C589.0,1340.3 590.7,1341.2 591.9,1342.5 C592.9,1343.4 593.3,1344.8 593.4,1346.1 C593.5,1347.3 593.5,1348.8 592.7,1349.8 C591.3,1351.5 589.1,1352.5 587.2,1353.7 C587.0,1353.9 586.7,1353.7 586.5,1353.7" stroke-width="1.4" />
<path d="M581.4,1354.1 L581.8,1346.8 C580.9,1346.7 579.7,1347.2 579.2,1346.5 C578.7,1345.7 578.9,1344.3 579.6,1343.6 C580.7,1342.5 582.4,1341.8 584.0,1341.8 C585.5,1341.8 587.1,1342.5 588.3,1343.6 C589.0,1344.1 589.5,1345.4 589.1,1346.1 C588.5,1346.9 587.1,1346.6 586.2,1346.8 L586.5,1353.7" stroke-width="1.4" />
<path d="M580.7,1345.4 C581.8,1344.8 582.7,1343.6 584.0,1343.6 C585.4,1343.5 586.6,1344.5 588.0,1345.0" stroke-width="1.1" />
<polyline points="576.0,1348.3 577.5,1349.0" stroke-width="1.1" />
<polyline points="589.7,1349.2 591.9,1348.1" stroke-width="1.1" />
<path d="M572.9,1367.6 C573.3,1366.7 573.5,1365.5 574.3,1364.7 C575.5,1363.7 577.1,1362.9 578.7,1362.6 C581.2,1362.1 583.8,1362.2 586.3,1362.6 C588.1,1362.8 589.9,1363.4 591.4,1364.4 C592.3,1365.0 592.6,1366.3 593.2,1367.2" stroke-width="1.4" />
<path d="M572.9,1367.6 L575.4,1369.8 L577.6,1372.7 L587.8,1372.7 L589.9,1370.2 L593.2,1367.2" stroke-width="1.4" />
<path d="M572.7,1368.1 L572.7,1376.0 C574.3,1377.1 575.8,1378.4 577.6,1379.3 C578.8,1379.9 580.2,1380.4 581.6,1380.4 C583.7,1380.4 585.8,1380.1 587.8,1379.3 C589.7,1378.5 591.1,1376.9 592.8,1375.6 L593.2,1367.2" stroke-width="1.4" />
<polyline points="577.6,1372.7 577.6,1379.3" stroke-width="1.3" />
<polyline points="587.8,1372.7 587.8,1379.3" stroke-width="1.3" />
<ellipse cx="582.4744059298016" cy="1367.2772836276433" rx="5.0141704817963815" ry="2.8340963592762156" stroke-width="1.3" />
<path d="M579.7,1368.5 C580.7,1368.0 581.6,1367.0 582.7,1367.0 C583.7,1367.0 584.5,1368.0 585.4,1368.5" stroke-width="1.0" />
<polyline points="591.7,1346.8 647.7,1346.8" stroke-width="1.5" />
<polyline points="592.0,1371.6 647.0,1371.6" stroke-width="1.5" />
<ellipse cx="286.7151162790698" cy="1338.5174418604652" rx="4.7" ry="4.7" stroke-width="1.5" />
<polyline points="283.8,1340.7 289.6,1336.3" stroke-width="1.1" />
<path d="M291.1,1336.3 C292.5,1337.5 294.4,1338.4 295.4,1340.0 C296.1,1341.0 296.6,1342.5 296.2,1343.6 C295.7,1344.6 294.3,1345.3 293.3,1345.1 C291.9,1344.7 291.3,1343.1 290.3,1342.2" stroke-width="1.3" />
<polyline points="287.2,1343.6 287.2,1400.3" stroke-width="1.5" />
<polyline points="302.7,1347.2 320.9,1356.7 352.8,1302.9 376.8,1315.3" stroke-width="1.5" />
<ellipse cx="370.2906976744186" cy="1311.6279069767443" rx="1.6" ry="1.6" stroke-width="1.6" />
<polyline points="392.1,1324.0 397.9,1326.9 396.5,1331.2" stroke-width="1.5" />
<polyline points="393.5,1337.1 366.7,1384.3 396.5,1401.7" stroke-width="1.5" />
<path d="M401.5,1387.2 C407.1,1384.3 412.1,1379.5 418.3,1378.5 C421.9,1377.9 425.5,1380.6 428.4,1382.8 C432.0,1385.6 436.1,1388.7 437.2,1393.0 C438.2,1397.4 436.9,1402.5 434.2,1406.1 C432.0,1409.2 427.9,1410.9 424.1,1411.2 C420.2,1411.5 416.7,1409.0 413.2,1407.6 C411.4,1406.8 409.8,1405.6 408.1,1404.7" stroke-width="1.5" />
<path d="M409.5,1406.1 C412.0,1404.2 414.6,1402.5 416.8,1400.3 C419.0,1398.1 420.8,1395.6 422.6,1393.0 C424.2,1390.7 425.5,1388.2 427.0,1385.8" stroke-width="1.5" />
<path d="M401.5,1387.2 L411.7,1393.0" stroke-width="1.5" />
<path d="M401.5,1387.2 C399.8,1391.1 397.2,1394.7 396.5,1398.8 C395.9,1401.7 395.7,1405.6 397.9,1407.6 C400.0,1409.5 403.9,1409.4 406.6,1408.3 C408.7,1407.4 409.1,1404.4 410.3,1402.5" stroke-width="1.5" />
<ellipse cx="400.81395348837214" cy="1403.9244186046512" rx="2.5" ry="2.5" stroke-width="1.4" />
<polyline points="400.8,1409.0 400.8,1465.8" stroke-width="1.5" />
<polyline points="416.1,1413.4 441.5,1427.9" stroke-width="1.5" />
<path d="M451.3,1430.9 L448.2,1434.6 L443.5,1433.8 L441.9,1429.3 L445.0,1425.6 L449.7,1426.4 L451.3,1430.9" stroke-width="1.4" />
<ellipse cx="446.6" cy="1430.1" rx="2.2" ry="2.6" stroke-width="1.1" />
<polyline points="446.6,1435.9 446.6,1491.8" stroke-width="1.5" />
<ellipse cx="854.9" cy="1250.4" rx="66.9" ry="41.5" stroke-width="1.5" />
<path d="M787.4,1250.0 C788.6,1252.7 789.3,1255.7 790.9,1258.1 C793.2,1261.6 796.4,1264.3 799.1,1267.4" stroke-width="1.2" />
<path d="M870.0,1284.2 C875.4,1282.9 880.9,1281.8 886.3,1280.2 C891.8,1278.6 897.1,1276.4 902.6,1274.4" stroke-width="1.2" />
<path d="M918.8,1253.5 L921.2,1259.3" stroke-width="1.2" />
<polyline points="787.4,1250.0 787.4,1462.8" stroke-width="1.5" />
<polyline points="922.3,1253.5 922.3,1462.8" stroke-width="1.5" />
<path d="M786.7,1462.8 C787.0,1468.2 785.0,1474.2 787.4,1479.1 C791.4,1486.9 796.9,1495.1 804.9,1498.8 C820.4,1506.1 837.8,1510.3 854.9,1510.5 C871.9,1510.7 889.4,1507.2 904.9,1500.0 C913.1,1496.2 918.5,1487.3 922.3,1479.1 C924.6,1474.2 922.3,1468.2 922.3,1462.8" stroke-width="1.5" />
<path d="M787.4,1467.4 C791.7,1472.9 793.9,1481.0 800.2,1483.7 C817.4,1491.1 836.2,1496.5 854.9,1496.5 C873.6,1496.5 892.4,1491.1 909.5,1483.7 C915.9,1481.0 918.1,1472.9 922.3,1467.4" stroke-width="1.2" />
<path d="M836.3,1339.5 C836.3,1333.3 834.6,1326.9 836.3,1320.9 C837.5,1316.7 840.8,1313.1 844.4,1310.5 C847.4,1308.3 851.3,1307.4 854.9,1307.4 C858.5,1307.4 862.4,1308.3 865.3,1310.5 C868.9,1313.1 872.3,1316.7 873.5,1320.9 C875.2,1326.9 873.5,1333.3 873.5,1339.5" stroke-width="1.5" />
<ellipse cx="854.8837209302326" cy="1338.8372093023256" rx="18.6" ry="14" stroke-width="1.5" />
<path d="M784.0,1255.8 C784.0,1296.9 782.5,1338.0 784.0,1379.1 C784.1,1381.9 786.7,1384.0 788.6,1386.0 C793.0,1391.0 797.1,1396.4 802.6,1400.0 C803.7,1400.8 804.9,1398.4 806.0,1397.7 L806.0,1339.5 C804.9,1338.4 803.7,1337.2 802.6,1336.0 C797.5,1330.7 792.5,1325.2 787.4,1319.8" stroke-width="1.5" />
<polyline points="786.3,1255.8 786.3,1316.3" stroke-width="1.1" />
<path d="M837.4,1486.0 C837.4,1478.3 836.1,1470.4 837.4,1462.8 C838.1,1459.2 840.3,1455.7 843.3,1453.5 C846.5,1451.1 850.8,1450.0 854.9,1450.0 C858.9,1450.0 863.3,1451.0 866.5,1453.5 C869.2,1455.6 870.7,1459.4 871.2,1462.8 C872.3,1470.5 871.2,1478.3 871.2,1486.0" stroke-width="1.3" stroke-dasharray="9 6"/>
<polyline points="854.9,1454.7 854.9,1462.8" stroke-width="1.5" />
<polyline points="853.8,1072.0 853.8,1112.0" stroke-width="1.5" />
<polyline points="854.5,1195.0 854.5,1222.0" stroke-width="1.5" />
<line x1="854.5" y1="1232" x2="854.5" y2="1462" stroke-width="1.4" stroke-dasharray="16 7"/>
<polyline points="750.0,1274.4 787.4,1274.4" stroke-width="1.5" />
<line x1="792" y1="1274.4" x2="915" y2="1274.4" stroke-width="1.4" stroke-dasharray="10 8"/>
<polyline points="915.3,1274.4 949.5,1274.4" stroke-width="1.5" />
<path d="M949.5,1274.4 L966.5,1274.4 L966.5,1200" stroke-width="1.4" stroke-dasharray="10 8"/>
<polyline points="690.1,1302.3 773.0,1302.3" stroke-width="1.5" />
<path d="M949.5,1376.7 L949.5,1214.4 L952.5,1215.5 L952.5,1217.5 L1063,1217.5 Q1067.7,1217.5 1067.7,1222 L1067.7,1372 Q1067.7,1376.7 1063,1376.7 Z" stroke-width="1.5" />
<ellipse cx="977" cy="1239" rx="4.7" ry="3.3" stroke-width="1.5" />
<ellipse cx="977" cy="1354.7" rx="4.7" ry="3.3" stroke-width="1.5" />
<path d="M709.5,1265.6 L718.5,1265.6 L721.5,1269.6 L721.5,1279.6 L718.5,1283.6 L709.5,1283.6 L709.5,1265.6" stroke-width="1.4" />
<polyline points="709.5,1270.6 718.5,1270.6" stroke-width="1.1" />
<polyline points="709.5,1278.6 718.5,1278.6" stroke-width="1.1" />
<path d="M718.5,1262.6 L721.5,1262.6 L721.5,1286.6 L718.5,1286.6 L718.5,1262.6" stroke-width="1.3" />
<path d="M721.5,1269.1 L742.5,1269.1 L742.5,1280.1 L721.5,1280.1" stroke-width="1.4" />
<polyline points="726.5,1269.1 726.5,1280.1" stroke-width="1.1" />
<polyline points="731.0,1269.1 731.0,1280.1" stroke-width="1.1" />
<polyline points="735.5,1269.1 735.5,1280.1" stroke-width="1.1" />
<polyline points="740.0,1269.1 740.0,1280.1" stroke-width="1.1" />
<path d="M649.0,1292.8 L658.0,1292.8 L661.0,1296.8 L661.0,1306.8 L658.0,1310.8 L649.0,1310.8 L649.0,1292.8" stroke-width="1.4" />
<polyline points="649.0,1297.8 658.0,1297.8" stroke-width="1.1" />
<polyline points="649.0,1305.8 658.0,1305.8" stroke-width="1.1" />
<path d="M658.0,1289.8 L661.0,1289.8 L661.0,1313.8 L658.0,1313.8 L658.0,1289.8" stroke-width="1.3" />
<path d="M661.0,1296.3 L682.0,1296.3 L682.0,1307.3 L661.0,1307.3" stroke-width="1.4" />
<polyline points="666.0,1296.3 666.0,1307.3" stroke-width="1.1" />
<polyline points="670.5,1296.3 670.5,1307.3" stroke-width="1.1" />
<polyline points="675.0,1296.3 675.0,1307.3" stroke-width="1.1" />
<polyline points="679.5,1296.3 679.5,1307.3" stroke-width="1.1" />
<polyline points="721.8,1208.1 721.8,1262.6" stroke-width="1.5" />
<polyline points="661.1,1235.4 661.1,1290.0" stroke-width="1.5" />
<path d="M836.8,1155.1 C836.6,1159.7 835.9,1164.3 836.2,1168.9 C836.3,1171.3 836.8,1173.9 838.1,1176.1 C839.6,1178.4 841.6,1180.6 844.0,1181.9 C847.2,1183.7 850.8,1185.2 854.5,1185.2 C858.3,1185.2 862.3,1184.0 865.6,1181.9 C868.4,1180.1 870.7,1177.2 871.8,1174.1 C873.1,1170.4 872.9,1166.2 872.5,1162.3 C872.0,1158.5 870.3,1154.9 869.2,1151.2" stroke-width="1.5" />
<path d="M841.4,1164.9 C843.1,1166.0 844.7,1167.4 846.6,1168.2 C849.1,1169.2 851.8,1170.2 854.5,1170.2 C857.2,1170.2 859.9,1169.4 862.3,1168.2 C864.0,1167.4 864.9,1165.6 866.2,1164.3" stroke-width="1.4" />
<path d="M844.0,1179.3 C842.4,1177.1 840.0,1175.4 839.1,1172.8 C838.3,1170.5 838.6,1167.9 839.4,1165.6 C840.3,1163.1 844.0,1161.7 844.0,1159.1 C844.0,1153.4 844.0,1147.7 844.0,1142.0 C844.0,1140.7 845.3,1139.1 846.6,1138.8 C850.9,1137.7 855.4,1137.5 859.7,1138.1 C861.4,1138.4 863.6,1139.7 863.6,1141.4 C863.6,1147.1 863.6,1152.7 863.6,1158.4 C863.6,1161.4 867.5,1162.9 868.9,1165.6 C870.0,1167.8 871.1,1170.3 870.8,1172.8 C870.6,1174.9 869.1,1176.8 867.6,1178.3 C866.7,1179.2 865.4,1179.0 864.3,1179.3" stroke-width="1.4" />
<path d="M842.7,1178.0 C842.0,1176.1 841.0,1174.2 840.7,1172.1 C840.5,1170.2 840.5,1168.0 841.4,1166.2 C842.6,1163.7 846.6,1162.5 846.6,1159.7 C846.6,1154.3 846.6,1148.8 846.6,1143.4 C846.6,1142.3 847.5,1141.0 848.6,1140.7 C851.8,1139.9 855.2,1139.9 858.4,1140.4 C859.7,1140.6 861.7,1141.4 861.7,1142.7 C861.7,1148.4 861.7,1154.0 861.7,1159.7 C861.7,1162.5 865.6,1163.8 866.9,1166.2 C867.8,1168.0 868.4,1170.1 868.2,1172.1 C868.0,1174.1 866.5,1175.6 865.6,1177.4" stroke-width="1.2" />
<path d="M846.6,1139.8 L862.3,1139.8 L862.3,1147.9 L846.6,1147.9 L846.6,1139.8" stroke-width="1.3" />
<polyline points="849.9,1140.7 849.9,1147.3" stroke-width="1.3" />
<polyline points="853.2,1140.7 853.2,1147.3" stroke-width="1.3" />
<polyline points="856.4,1140.7 856.4,1147.3" stroke-width="1.3" />
<polyline points="859.7,1140.7 859.7,1147.3" stroke-width="1.3" />
<path d="M848.6,1136.2 L848.6,1121.8 C851.9,1121.8 855.2,1121.1 858.4,1121.8 C860.4,1122.2 862.3,1123.2 863.6,1124.7 C864.9,1126.2 865.2,1128.3 865.6,1130.3 C865.9,1131.8 865.6,1133.3 865.6,1134.9" stroke-width="1.5" />
<path d="M848.6,1134.2 C851.9,1134.2 855.2,1133.7 858.4,1134.2 C859.8,1134.4 861.0,1135.5 862.3,1136.2" stroke-width="1.3" />
<path d="M843.4,1137.5 C843.5,1135.3 843.0,1133.0 843.7,1130.9 C844.2,1129.3 845.4,1127.9 846.6,1126.7 C847.2,1126.1 848.0,1126.0 848.7,1125.7" stroke-width="1.4" />
<path d="M832.2,1135.2 L839.4,1135.2 L839.4,1151.2 L832.2,1151.2 L832.2,1135.2" stroke-width="1.5" />
<polyline points="832.6,1139.8 839.4,1139.8" stroke-width="1.2" />
<polyline points="832.6,1147.0 839.4,1147.0" stroke-width="1.2" />
<path d="M832.2,1138.4 L826.0,1138.4 L826.0,1147.6 L832.2,1147.6" stroke-width="1.5" />
<path d="M840.4,1135.8 L842.7,1135.8 L842.7,1150.9 L840.4,1150.9 L840.4,1135.8" stroke-width="1.3" />
<path d="M865.6,1134.9 C866.5,1135.3 867.8,1135.3 868.2,1136.2 C869.2,1138.1 869.5,1140.5 869.5,1142.7 C869.5,1144.9 869.2,1147.3 868.2,1149.2 C867.8,1150.1 866.5,1149.9 865.6,1150.2" stroke-width="1.8" />
<polyline points="854.5,1164.9 854.5,1200.0" stroke-width="1.5" />
<polyline points="854.5,1110.0 854.5,1111.6" stroke-width="1.5" />
<path d="M1034.3,1154.0 C1064.1,1154.0 1093.9,1154.9 1123.7,1154.0 C1125.1,1153.9 1125.6,1152.0 1126.6,1151.0 L1126.6,1113.3 C1125.6,1112.3 1125.0,1110.5 1123.7,1110.3 C1118.2,1109.5 1112.5,1109.5 1107.0,1110.3 C1105.6,1110.5 1105.0,1112.3 1104.1,1113.3 L1104.1,1130.7 C1103.1,1132.4 1102.7,1134.5 1101.2,1135.8 C1099.6,1137.1 1097.4,1137.8 1095.3,1138.0 C1093.4,1138.1 1091.2,1137.7 1089.5,1136.5 C1087.6,1135.1 1086.6,1132.6 1085.2,1130.7 L1085.2,1119.8 L1082.3,1116.9 C1065.8,1116.9 1049.3,1116.4 1032.8,1116.9 C1031.5,1116.9 1030.4,1117.9 1029.2,1118.3 C1028.0,1120.5 1026.9,1122.8 1025.6,1124.9 C1024.3,1126.9 1023.1,1129.2 1021.2,1130.7 C1018.7,1132.7 1015.5,1133.8 1012.5,1135.1 C1009.2,1136.5 1005.7,1137.5 1002.3,1138.7" stroke-width="1.5" />
<path d="M1033.6,1119.8 L1082.3,1119.1 L1083.0,1119.8" stroke-width="1.2" />
<path d="M1106.2,1112.5 L1123.7,1112.5 L1125.1,1114.0" stroke-width="1.2" />
<path d="M1033.6,1119.8 C1031.9,1121.5 1030.1,1123.1 1028.5,1124.9 C1026.9,1126.7 1026.0,1129.2 1024.1,1130.7 C1021.8,1132.6 1018.8,1133.7 1016.1,1135.1 C1011.6,1137.3 1006.9,1139.4 1002.3,1141.6" stroke-width="1.5" />
<polyline points="1035.0,1120.5 1035.0,1154.0" stroke-width="1.5" />
<polyline points="1034.3,1154.7 1002.3,1169.2" stroke-width="1.5" />
<path d="M998.0,1135.8 L1001.6,1135.8 L1001.6,1187.4 L998.0,1187.4 L998.0,1135.8" stroke-width="1.5" />
<ellipse cx="1048.110465116279" cy="1124.8837209302326" rx="3.2" ry="2.3" stroke-width="1.5" />
<ellipse cx="1045.9302325581396" cy="1144.5058139534883" rx="3.2" ry="2.3" stroke-width="1.5" />
<ellipse cx="1111.3372093023256" cy="1117.6162790697674" rx="3.2" ry="2.3" stroke-width="1.5" />
<ellipse cx="1115.6976744186047" cy="1144.5058139534883" rx="3.2" ry="2.3" stroke-width="1.5" />
<polyline points="1045.9,1146.7 1045.9,1169.2" stroke-width="1.5" />
<polyline points="987.8,1148.1 966.7,1148.1 966.7,1224.4" stroke-width="1.5" />
<path d="M1036.5,1191.7 L1040.8,1187.4 L1051.7,1187.4 L1056.8,1191.7 L1057.6,1200.5 L1051.7,1208.5 L1040.8,1208.5 L1035.8,1200.5 L1036.5,1191.7" stroke-width="1.4" />
<path d="M1041.6,1190.3 L1051.0,1190.3 L1051.0,1194.7 L1041.6,1194.7 L1041.6,1190.3" stroke-width="1.2" />
<path d="M1040.8,1187.4 C1040.8,1184.0 1039.5,1180.3 1040.8,1177.2 C1041.5,1175.6 1044.2,1175.8 1045.9,1175.8 C1047.7,1175.8 1050.3,1175.6 1051.0,1177.2 C1052.4,1180.3 1051.0,1184.0 1051.0,1187.4" stroke-width="1.3" />
<polyline points="1041.6,1180.8 1050.3,1180.8" stroke-width="1.1" />
<polyline points="1041.6,1184.5 1050.3,1184.5" stroke-width="1.1" />
</svg>
</body></html>
